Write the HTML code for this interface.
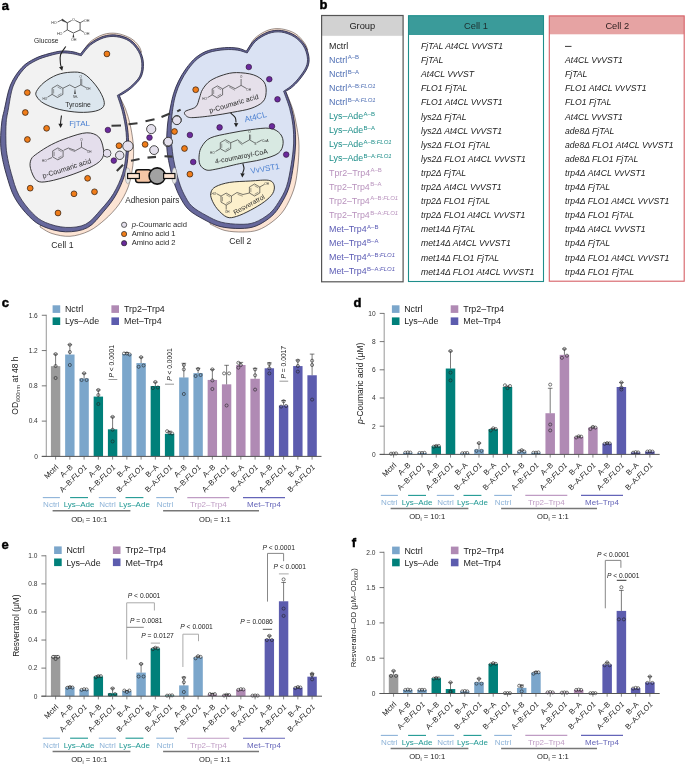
<!DOCTYPE html><html><head><meta charset="utf-8"><style>html,body{margin:0;padding:0;background:#fff;}svg{display:block;will-change:transform;font-family:"Liberation Sans", sans-serif;}</style></head><body>
<svg width="685" height="766" viewBox="0 0 685 766">
<rect width="685" height="766" fill="#fff"/>
<path d="M82.5 52.3 C83.72 50.62 86.38 45.15 89.8 42.2 C93.22 39.25 98.53 36.07 103 34.6 C107.47 33.13 112.02 32.8 116.6 33.4 C121.18 34 126.85 36.18 130.5 38.2 C134.15 40.22 136.67 43.2 138.5 45.5 C140.33 47.8 141 50.92 141.5 52 L125 70 Z" fill="#fce4d4" stroke="#4a3a35" stroke-width="0.55"/>
<path d="M119.3 96 C120.33 98.17 123.72 104.33 125.5 109 C127.28 113.67 128.78 118.83 130 124 C131.22 129.17 132.2 135.17 132.8 140 C133.4 144.83 133.7 148 133.6 153 C133.5 158 133.17 164.17 132.2 170 C131.23 175.83 130.08 182.17 127.8 188 C125.52 193.83 122.3 199.75 118.5 205 C114.7 210.25 109.92 215.17 105 219.5 C100.08 223.83 94.83 228.2 89 231 C83.17 233.8 76.17 235.88 70 236.3 C63.83 236.72 57 235.05 52 233.5 C47 231.95 42 228.08 40 227 L60 150 L100 100 Z" fill="#fce4d4" stroke="#4a3a35" stroke-width="0.55"/>
<path d="M248 49.5 C249.1 47.67 251.27 41.72 254.6 38.5 C257.93 35.28 263.5 31.8 268 30.2 C272.5 28.6 277.02 28.32 281.6 28.9 C286.18 29.48 291.68 31.35 295.5 33.7 C299.32 36.05 302.45 40.28 304.5 43 C306.55 45.72 307.25 48.83 307.8 50 L290 65 Z" fill="#fce4d4" stroke="#4a3a35" stroke-width="0.55"/>
<path d="M286 92 C287.17 95 291.17 104 293 110 C294.83 116 296 122 297 128 C298 134 298.92 139 299 146 C299.08 153 298.4 162.67 297.5 170 C296.6 177.33 295.85 183.33 293.6 190 C291.35 196.67 287.6 204.67 284 210 C280.4 215.33 276.33 218.67 272 222 C267.67 225.33 262.83 228.33 258 230 C253.17 231.67 248.5 231.92 243 232 C237.5 232.08 230.5 231.83 225 230.5 C219.5 229.17 212.5 225.08 210 224 L230 150 Z" fill="#fce4d4" stroke="#4a3a35" stroke-width="0.55"/>
<path d="M119.3 95.2 C120.13 97.9 122.85 105.22 124.3 111.4 C125.75 117.58 127.35 125.33 128 132.3 C128.65 139.27 128.72 146.23 128.2 153.2 C127.68 160.17 126.95 167.13 124.9 174.1 C122.85 181.07 119.48 188.72 115.9 195 C112.32 201.28 108.12 206.37 103.4 211.8 C98.68 217.23 93.88 224.27 87.6 227.6 C81.32 230.93 73 231.95 65.7 231.8 C58.4 231.65 49.88 229.25 43.8 226.7 C37.72 224.15 34.07 221.37 29.2 216.5 C24.33 211.63 18.38 204.42 14.6 197.5 C10.82 190.58 8.63 182.08 6.5 175 C4.37 167.92 2.78 160.83 1.8 155 C0.82 149.17 0.6 145.5 0.6 140 C0.6 134.5 1.17 127.08 1.8 122 C2.43 116.92 2.95 115.67 4.4 109.5 C5.85 103.33 7.58 92 10.5 85 C13.42 78 17.82 71.92 21.9 67.5 C25.98 63.08 30.48 60.82 35 58.5 C39.52 56.18 44.5 54.85 49 53.6 C53.5 52.35 58 51.3 62 51 C66 50.7 69.93 51.3 73 51.8 C76.07 52.3 79.17 53.63 80.4 54 C81.92 52.3 85.73 46.73 89.5 43.8 C93.27 40.87 98.5 37.85 103 36.4 C107.5 34.95 111.97 34.53 116.5 35.1 C121.03 35.67 126.32 37.2 130.2 39.8 C134.08 42.4 137.6 46.82 139.8 50.7 C142 54.58 143.17 58.75 143.4 63.1 C143.63 67.45 143.15 72.7 141.2 76.8 C139.25 80.9 134.83 84.8 131.7 87.7 C128.57 90.6 124.47 92.95 122.4 94.2 C120.33 95.45 119.82 95.03 119.3 95.2Z" fill="#67689c" stroke="#2d2d45" stroke-width="0.9" stroke-linejoin="round"/>
<path d="M117.31 95.42 C118.17 98.16 120.98 105.66 122.45 111.83 C123.92 118.01 125.5 125.61 126.11 132.48 C126.72 139.34 126.69 146.22 126.1 153.04 C125.51 159.87 124.67 166.65 122.57 173.41 C120.47 180.18 117.1 187.59 113.48 193.62 C109.87 199.65 105.49 204.52 100.88 209.61 C96.27 214.71 91.64 221.23 85.79 224.2 C79.95 227.16 72.5 227.7 65.79 227.42 C59.08 227.13 51.11 224.87 45.56 222.5 C40.01 220.13 36.96 217.75 32.51 213.19 C28.06 208.64 22.39 201.78 18.86 195.17 C15.33 188.56 13.3 180.39 11.31 173.55 C9.32 166.71 7.81 159.73 6.91 154.14 C6.01 148.55 6.02 145.27 5.9 140 C5.78 134.73 5.81 127.48 6.18 122.55 C6.55 117.61 6.95 116.45 8.11 110.37 C9.28 104.3 10.57 92.98 13.17 86.11 C15.77 79.25 19.91 73.45 23.72 69.18 C27.52 64.91 31.71 62.75 36.02 60.5 C40.33 58.24 45.21 56.89 49.57 55.65 C53.92 54.4 58.3 53.33 62.15 53.02 C66 52.7 69.49 53.3 72.68 53.76 C75.87 54.23 79.84 55.46 81.27 55.8 C82.81 54.01 86.78 48.04 90.48 45.06 C94.19 42.08 99.19 39.32 103.49 37.92 C107.79 36.53 112 36.15 116.3 36.69 C120.6 37.22 125.63 38.66 129.31 41.13 C132.99 43.6 136.33 47.81 138.41 51.49 C140.49 55.16 141.58 59.08 141.8 63.19 C142.03 67.29 141.62 72.22 139.76 76.11 C137.89 80 133.64 83.74 130.61 86.53 C127.58 89.31 123.79 91.35 121.57 92.83 C119.36 94.31 118.02 94.99 117.31 95.42Z" fill="#f2f2f2" stroke="#2d2d45" stroke-width="0.8" stroke-linejoin="round"/>
<path d="M285.6 91.2 C286.58 94 289.97 102.37 291.5 108 C293.03 113.63 294.12 119 294.8 125 C295.48 131 295.82 137.33 295.6 144 C295.38 150.67 294.6 157.75 293.5 165 C292.4 172.25 291.08 181 289 187.5 C286.92 194 283.9 199.22 281 204 C278.1 208.78 275.77 212.53 271.6 216.2 C267.43 219.87 261.27 223.95 256 226 C250.73 228.05 246 228.42 240 228.5 C234 228.58 226 228 220 226.5 C214 225 209.22 222.3 204 219.5 C198.78 216.7 192.7 213.45 188.7 209.7 C184.7 205.95 182.38 201.35 180 197 C177.62 192.65 176.15 188.93 174.4 183.6 C172.65 178.27 170.77 171.1 169.5 165 C168.23 158.9 167.13 153.67 166.8 147 C166.47 140.33 166.88 131.67 167.5 125 C168.12 118.33 169.47 112.28 170.5 107 C171.53 101.72 172.35 97.63 173.7 93.3 C175.05 88.97 176.53 85.13 178.6 81 C180.67 76.87 183.2 72.43 186.1 68.5 C189 64.57 192.28 60.4 196 57.4 C199.72 54.4 203.63 52.12 208.4 50.5 C213.17 48.88 219.67 48.08 224.6 47.7 C229.53 47.32 234.38 47.62 238 48.2 C241.62 48.78 244.92 50.7 246.3 51.2 C247.68 49.33 250.98 43.2 254.6 40 C258.22 36.8 263.52 33.58 268 32 C272.48 30.42 277 29.93 281.5 30.5 C286 31.07 291.15 33.02 295 35.4 C298.85 37.78 302.28 41.23 304.6 44.8 C306.92 48.37 308.42 53 308.9 56.8 C309.38 60.6 309.08 63.77 307.5 67.6 C305.92 71.43 302.08 76.43 299.4 79.8 C296.72 83.17 293.7 85.9 291.4 87.8 C289.1 89.7 286.57 90.63 285.6 91.2Z" fill="#67689c" stroke="#2d2d45" stroke-width="0.9" stroke-linejoin="round"/>
<path d="M283.6 91.21 C284.61 94.09 288.11 102.83 289.67 108.5 C291.22 114.17 292.26 119.31 292.91 125.21 C293.57 131.12 293.89 137.36 293.61 143.94 C293.32 150.51 292.39 157.52 291.2 164.65 C290.02 171.78 288.63 180.4 286.5 186.7 C284.37 193 281.28 197.94 278.42 202.44 C275.56 206.93 273.33 210.33 269.36 213.66 C265.4 216.99 259.52 220.66 254.61 222.44 C249.71 224.21 245.53 224.34 239.94 224.29 C234.35 224.24 226.71 223.62 221.09 222.15 C215.46 220.67 211.04 218.09 206.18 215.44 C201.32 212.79 195.6 209.7 191.95 206.24 C188.29 202.78 186.4 198.7 184.26 194.66 C182.12 190.63 180.74 187.17 179.11 182.06 C177.48 176.94 175.67 169.85 174.47 163.97 C173.28 158.08 172.46 153.18 171.92 146.74 C171.37 140.31 171.03 131.89 171.2 125.34 C171.38 118.8 172.19 112.71 172.97 107.48 C173.75 102.26 174.61 98.23 175.88 93.98 C177.15 89.73 178.59 86.03 180.59 81.99 C182.58 77.96 185.05 73.61 187.84 69.78 C190.62 65.95 193.78 61.92 197.32 59.03 C200.85 56.14 204.49 54 209.06 52.45 C213.64 50.9 219.99 50.09 224.76 49.71 C229.53 49.33 233.94 49.62 237.68 50.17 C241.42 50.71 245.6 52.52 247.19 52.99 C248.6 51.03 252.1 44.45 255.66 41.2 C259.22 37.95 264.26 35.03 268.53 33.51 C272.81 31.99 277.03 31.55 281.3 32.09 C285.57 32.63 290.5 34.5 294.16 36.76 C297.82 39.02 301.07 42.3 303.26 45.67 C305.45 49.05 306.85 53.45 307.31 57 C307.77 60.55 307.55 63.36 306.02 66.99 C304.49 70.62 300.76 75.54 298.15 78.8 C295.54 82.07 292.81 84.5 290.38 86.57 C287.96 88.63 284.73 90.44 283.6 91.21Z" fill="#dae2f3" stroke="#2d2d45" stroke-width="0.8" stroke-linejoin="round"/>
<path d="M36.4 91.5 C37.57 89.08 40.58 85.27 44 82.5 C47.42 79.73 52.42 76.62 56.9 74.9 C61.38 73.18 66.43 72.38 70.9 72.2 C75.37 72.02 79.62 71.68 83.7 73.8 C87.78 75.92 92.18 80.92 95.4 84.9 C98.62 88.88 101.63 94.13 103 97.7 C104.37 101.27 104.87 104.07 103.6 106.3 C102.33 108.53 99.5 110.1 95.4 111.1 C91.3 112.1 85.03 112.58 79 112.3 C72.97 112.02 65.03 110.87 59.2 109.4 C53.37 107.93 47.7 105.57 44 103.5 C40.3 101.43 38.27 99 37 97 C35.73 95 35.23 93.92 36.4 91.5Z" fill="#dce6ee" stroke="#222" stroke-width="0.9"/>
<path d="M62.87 94.4 L57.5 97.5 L52.13 94.4 L52.13 88.2 L57.5 85.1 L62.87 88.2Z" fill="none" stroke="#333" stroke-width="0.65"/>
<line x1="61.37" y1="93.53" x2="57.5" y2="95.76" stroke="#333" stroke-width="0.45"/>
<line x1="53.63" y1="93.53" x2="53.63" y2="89.07" stroke="#333" stroke-width="0.45"/>
<line x1="57.5" y1="86.84" x2="61.37" y2="89.07" stroke="#333" stroke-width="0.45"/>
<path d="M52.1 94.4 L47.5 97.2" fill="none" stroke="#333" stroke-width="0.65"/>
<text x="42.5" y="99.6" font-size="3.2" fill="#333">HO</text>
<path d="M63 88.2 L69.7 84.9 L75 87.8 L80.8 84.9 L80.8 78.5" fill="none" stroke="#333" stroke-width="0.65"/>
<path d="M81.8 84.9 L81.8 78.8" fill="none" stroke="#333" stroke-width="0.45"/>
<path d="M80.8 84.9 L86.5 87.8" fill="none" stroke="#333" stroke-width="0.65"/>
<text x="79.6" y="77.5" font-size="3" fill="#333">O</text>
<text x="86" y="89.8" font-size="3" fill="#333">OH</text>
<path d="M75 88 L74.2 94 L75.8 94 Z" fill="#333"/>
<text x="73" y="97.8" font-size="2.8" fill="#333">NH₂</text>
<text x="65.2" y="107" font-size="6.8" fill="#2a2a2a">Tyrosine</text>
<circle cx="107.1" cy="153.3" r="3.8" fill="#e4e0ec" stroke="#222" stroke-width="0.9"/>
<path d="M37.5 153.3 C40.85 150.88 46.15 147.33 51.3 144.7 C56.45 142.07 62.48 139.48 68.4 137.5 C74.32 135.52 81.77 132.92 86.8 132.8 C91.83 132.68 95.87 134.27 98.6 136.8 C101.33 139.33 102.55 144.5 103.2 148 C103.85 151.5 104.15 154.85 102.5 157.8 C100.85 160.75 98.55 162.83 93.3 165.7 C88.05 168.57 78.43 172.4 71 175 C63.57 177.6 54.4 180.37 48.7 181.3 C43 182.23 39.83 182.75 36.8 180.6 C33.77 178.45 31.43 171.97 30.5 168.4 C29.57 164.83 30.03 161.72 31.2 159.2 C32.37 156.68 34.15 155.72 37.5 153.3Z" fill="#e4deec" stroke="#222" stroke-width="0.9"/>
<circle cx="107.1" cy="153.3" r="3.3" fill="#e4deec"/>
<path d="M63.1 156.9 L57.9 159.9 L52.7 156.9 L52.7 150.9 L57.9 147.9 L63.1 150.9Z" fill="none" stroke="#333" stroke-width="0.65"/>
<line x1="61.64" y1="156.06" x2="57.9" y2="158.22" stroke="#333" stroke-width="0.45"/>
<line x1="54.16" y1="156.06" x2="54.16" y2="151.74" stroke="#333" stroke-width="0.45"/>
<line x1="57.9" y1="149.58" x2="61.64" y2="151.74" stroke="#333" stroke-width="0.45"/>
<path d="M52.1 157.5 L47.5 159.5" fill="none" stroke="#333" stroke-width="0.65"/>
<text x="42" y="161.8" font-size="3" fill="#333">HO</text>
<path d="M63.6 150.3 L68.4 148 L75.6 150.6 L81.5 147.3 L81.5 141.5" fill="none" stroke="#333" stroke-width="0.65"/>
<path d="M69.2 149.3 L75.2 151.8" fill="none" stroke="#333" stroke-width="0.45"/>
<path d="M81.5 147.3 L87.5 150.5" fill="none" stroke="#333" stroke-width="0.65"/>
<text x="80.3" y="140.5" font-size="3" fill="#333">O</text>
<text x="87" y="152.6" font-size="3" fill="#333">OH</text>
<text transform="translate(43.2 178.2) rotate(-17.5)" font-size="7" fill="#2a2a2a">p-Coumaric acid</text>
<path d="M185 111.6 C186.53 110.03 193.38 109.1 195.8 106.8 C198.22 104.5 198.38 100.68 199.5 97.8 C200.62 94.92 200.72 92.33 202.5 89.5 C204.28 86.67 206.72 83.23 210.2 80.8 C213.68 78.37 219.02 76.27 223.4 74.9 C227.78 73.53 231.47 72.6 236.5 72.6 C241.53 72.6 249 73.32 253.6 74.9 C258.2 76.48 262.02 79.15 264.1 82.1 C266.18 85.05 266.32 89.32 266.1 92.6 C265.88 95.88 265.32 99.17 262.8 101.8 C260.28 104.43 256.03 106.65 251 108.4 C245.97 110.15 238.95 111.1 232.6 112.3 C226.25 113.5 219.48 114.72 212.9 115.6 C206.32 116.48 197.48 117.5 193.1 117.6 C188.72 117.7 187.95 117.2 186.6 116.2 C185.25 115.2 183.47 113.17 185 111.6Z" fill="#e6e0ea" stroke="#222" stroke-width="0.9"/>
<path d="M222.6 94.9 L217.4 97.9 L212.2 94.9 L212.2 88.9 L217.4 85.9 L222.6 88.9Z" fill="none" stroke="#333" stroke-width="0.65"/>
<line x1="221.14" y1="94.06" x2="217.4" y2="96.22" stroke="#333" stroke-width="0.45"/>
<line x1="213.66" y1="94.06" x2="213.66" y2="89.74" stroke="#333" stroke-width="0.45"/>
<line x1="217.4" y1="87.58" x2="221.14" y2="89.74" stroke="#333" stroke-width="0.45"/>
<path d="M212.2 94.9 L207.6 97.6" fill="none" stroke="#333" stroke-width="0.65"/>
<text x="202.3" y="100.4" font-size="3" fill="#333">HO</text>
<path d="M222.6 88.9 L228.6 85.4 L235.2 88.7 L241.1 85.4 L241.1 79" fill="none" stroke="#333" stroke-width="0.65"/>
<path d="M229.2 87 L235 90.3" fill="none" stroke="#333" stroke-width="0.45"/>
<path d="M241.1 85.4 L246.5 88.5" fill="none" stroke="#333" stroke-width="0.65"/>
<text x="239.9" y="78" font-size="3" fill="#333">O</text>
<text x="246.3" y="90.6" font-size="3" fill="#333">OH</text>
<text transform="translate(210 113) rotate(-16.5)" font-size="7" fill="#2a2a2a">p-Coumaric acid</text>
<path d="M199.2 154.7 C199.53 151.7 200.05 149.18 201.9 146.4 C203.75 143.62 205.67 140.2 210.3 138 C214.93 135.8 223 134.58 229.7 133.2 C236.4 131.82 243.8 130.52 250.5 129.7 C257.2 128.88 264.93 127.6 269.9 128.3 C274.87 129 278.1 131.35 280.3 133.9 C282.5 136.45 283.45 140.37 283.1 143.6 C282.75 146.83 281.78 150.65 278.2 153.3 C274.62 155.95 268.07 157.77 261.6 159.5 C255.13 161.23 247.03 162.08 239.4 163.7 C231.77 165.32 221.35 168.17 215.8 169.2 C210.25 170.23 208.75 170.7 206.1 169.9 C203.45 169.1 201.05 166.93 199.9 164.4 C198.75 161.87 198.87 157.7 199.2 154.7Z" fill="#d8e9e2" stroke="#222" stroke-width="0.9"/>
<path d="M230.7 148.7 L225.5 151.7 L220.3 148.7 L220.3 142.7 L225.5 139.7 L230.7 142.7Z" fill="none" stroke="#333" stroke-width="0.65"/>
<line x1="229.24" y1="147.86" x2="225.5" y2="150.02" stroke="#333" stroke-width="0.45"/>
<line x1="221.76" y1="147.86" x2="221.76" y2="143.54" stroke="#333" stroke-width="0.45"/>
<line x1="225.5" y1="141.38" x2="229.24" y2="143.54" stroke="#333" stroke-width="0.45"/>
<path d="M220.3 148.7 L215.5 151.5" fill="none" stroke="#333" stroke-width="0.65"/>
<text x="210" y="154.3" font-size="3" fill="#333">HO</text>
<path d="M230.7 142.7 L237.7 139.8 L242.6 143.7 L249.5 139.8 L249.5 134.5" fill="none" stroke="#333" stroke-width="0.65"/>
<path d="M238.2 141.6 L242.3 145" fill="none" stroke="#333" stroke-width="0.45"/>
<path d="M250.6 139.6 L250.6 134.7" fill="none" stroke="#333" stroke-width="0.45"/>
<path d="M249.5 139.8 L254.6 142.8" fill="none" stroke="#333" stroke-width="0.65"/>
<path d="M256.5 142.8 L261.8 140" fill="none" stroke="#333" stroke-width="0.65"/>
<text x="248.3" y="133.4" font-size="3.2" fill="#333">O</text>
<text x="254.2" y="145" font-size="3.2" fill="#333">S</text>
<text x="262" y="141.6" font-size="3.4" fill="#333">CoA</text>
<text transform="translate(215.5 163.8) rotate(-11.2)" font-size="6.9" fill="#2a2a2a">4-coumaroyl-CoA</text>
<path d="M211 192.1 C211.7 190.02 212.68 188.22 215.8 186.6 C218.92 184.98 223.92 183.33 229.7 182.4 C235.48 181.47 244.03 181.35 250.5 181 C256.97 180.65 264.57 179.6 268.5 180.3 C272.43 181 273.4 183 274.1 185.2 C274.8 187.4 274.33 190.73 272.7 193.5 C271.07 196.27 268 199.02 264.3 201.8 C260.6 204.58 255.12 207.77 250.5 210.2 C245.88 212.63 240.53 215.25 236.6 216.4 C232.67 217.55 230.13 218.37 226.9 217.1 C223.67 215.83 219.75 211.8 217.2 208.8 C214.65 205.8 212.63 201.88 211.6 199.1 C210.57 196.32 210.3 194.18 211 192.1Z" fill="#fcf0cc" stroke="#222" stroke-width="0.9"/>
<path d="M231.4 202.1 L226.2 205.1 L221 202.1 L221 196.1 L226.2 193.1 L231.4 196.1Z" fill="none" stroke="#333" stroke-width="0.65"/>
<line x1="229.94" y1="201.26" x2="226.2" y2="203.42" stroke="#333" stroke-width="0.45"/>
<line x1="222.46" y1="201.26" x2="222.46" y2="196.94" stroke="#333" stroke-width="0.45"/>
<line x1="226.2" y1="194.78" x2="229.94" y2="196.94" stroke="#333" stroke-width="0.45"/>
<path d="M259.8 193 L254.6 196 L249.4 193 L249.4 187 L254.6 184 L259.8 187Z" fill="none" stroke="#333" stroke-width="0.65"/>
<line x1="258.34" y1="192.16" x2="254.6" y2="194.32" stroke="#333" stroke-width="0.45"/>
<line x1="250.86" y1="192.16" x2="250.86" y2="187.84" stroke="#333" stroke-width="0.45"/>
<line x1="254.6" y1="185.68" x2="258.34" y2="187.84" stroke="#333" stroke-width="0.45"/>
<path d="M231.4 196.1 L237 192.5 L243 194.5 L249.4 193" fill="none" stroke="#333" stroke-width="0.65"/>
<path d="M237.6 194.3 L242.8 196.2" fill="none" stroke="#333" stroke-width="0.45"/>
<path d="M221 196.1 L216.5 193.6" fill="none" stroke="#333" stroke-width="0.65"/>
<text x="211.5" y="195.2" font-size="3" fill="#333">HO</text>
<path d="M226.2 205.1 L226.2 209.6" fill="none" stroke="#333" stroke-width="0.65"/>
<text x="225" y="213.2" font-size="3" fill="#333">OH</text>
<path d="M259.8 187 L264.5 184.3" fill="none" stroke="#333" stroke-width="0.65"/>
<text x="264.5" y="184.8" font-size="3" fill="#333">OH</text>
<text transform="translate(235 215) rotate(-29)" font-size="6.8" fill="#2a2a2a">Resveratrol</text>
<text x="69.2" y="125.6" font-size="8" fill="#4a7fd0">FjTAL</text>
<text transform="translate(245.2 122.3) rotate(-14)" font-size="8.2" fill="#4a7fd0">At4CL</text>
<text transform="translate(251 173.8) rotate(-10)" font-size="8" fill="#4a7fd0">VvVST1</text>
<path d="M65.8 46.5 C64.92 47.92 61.38 52.08 60.5 55 C59.62 57.92 60.32 61.92 60.5 64 C60.68 66.08 61.42 66.92 61.6 67.5" fill="none" stroke="#222" stroke-width="1.1"/>
<path d="M62.2 70.8 L58.99 67.31 L63.24 66.17 Z" fill="#222"/>
<path d="M61.5 115.5 C61.37 116.5 60.85 120.08 60.7 121.5 C60.55 122.92 60.62 123.58 60.6 124" fill="none" stroke="#222" stroke-width="1.1"/>
<path d="M60.6 128 L58.4 123.8 L62.8 123.8 Z" fill="#222"/>
<path d="M230.6 113 C231.37 113.75 234.3 115.92 235.2 117.5 C236.1 119.08 235.87 121.67 236 122.5" fill="none" stroke="#222" stroke-width="1.1"/>
<path d="M236 127.3 L233.95 123.03 L238.35 123.18 Z" fill="#222"/>
<path d="M242.8 163.5 C243 164.33 244.05 166.83 244 168.5 C243.95 170.17 242.75 172.67 242.5 173.5" fill="none" stroke="#222" stroke-width="1.1"/>
<path d="M242.3 177.5 L240.32 173.19 L244.72 173.42 Z" fill="#222"/>
<path d="M71.6 20.5 L67.3 22.8 L67.3 29.9 L73.4 33 L80.1 29.9 L80.1 22.8 L75.3 20.5" fill="none" stroke="#333" stroke-width="0.8"/>
<path d="M67.3 22.8 L62.2 19.0 L61.9 20.6 Z" fill="#333" stroke="#333" stroke-width="0.6"/>
<path d="M62.2 19.7 L57.6 22" fill="none" stroke="#333" stroke-width="0.7"/>
<text x="51.2" y="24.4" font-size="3.7" fill="#333">HO</text>
<path d="M80.1 22.8 L84 20.6" fill="none" stroke="#333" stroke-width="0.7"/>
<text x="84" y="21.8" font-size="3.7" fill="#333">OH</text>
<path d="M80.1 29.9 L84 32.3" fill="none" stroke="#333" stroke-width="0.7"/>
<text x="84" y="35" font-size="3.7" fill="#333">OH</text>
<path d="M73.4 33 L72.5 37.4 L74.3 37.4 Z" fill="#333"/>
<text x="71" y="41.4" font-size="3.7" fill="#333">OH</text>
<path d="M67.3 29.9 L63.4 32.3" fill="none" stroke="#333" stroke-width="0.7"/>
<text x="56.9" y="35" font-size="3.7" fill="#333">HO</text>
<text x="72.1" y="21.2" font-size="3.7" fill="#333">O</text>
<text x="34" y="42.9" font-size="6.7" fill="#2a2a2a">Glucose</text>
<circle cx="106.9" cy="53.9" r="2.9" fill="#f07d1a" stroke="#2a1a10" stroke-width="0.7"/>
<circle cx="27.3" cy="92.6" r="2.9" fill="#f07d1a" stroke="#2a1a10" stroke-width="0.7"/>
<circle cx="25.3" cy="112.5" r="2.9" fill="#f07d1a" stroke="#2a1a10" stroke-width="0.7"/>
<circle cx="46.6" cy="128.3" r="2.9" fill="#f07d1a" stroke="#2a1a10" stroke-width="0.7"/>
<circle cx="27.4" cy="139.5" r="2.9" fill="#f07d1a" stroke="#2a1a10" stroke-width="0.7"/>
<circle cx="87.6" cy="178.3" r="2.9" fill="#f07d1a" stroke="#2a1a10" stroke-width="0.7"/>
<circle cx="30.2" cy="188.2" r="2.9" fill="#f07d1a" stroke="#2a1a10" stroke-width="0.7"/>
<circle cx="74" cy="193.8" r="2.9" fill="#f07d1a" stroke="#2a1a10" stroke-width="0.7"/>
<circle cx="94.5" cy="191.8" r="2.9" fill="#f07d1a" stroke="#2a1a10" stroke-width="0.7"/>
<circle cx="58" cy="213" r="2.9" fill="#f07d1a" stroke="#2a1a10" stroke-width="0.7"/>
<circle cx="195.7" cy="89.7" r="2.9" fill="#f07d1a" stroke="#2a1a10" stroke-width="0.7"/>
<circle cx="174.5" cy="131.5" r="2.9" fill="#f07d1a" stroke="#2a1a10" stroke-width="0.7"/>
<circle cx="184.5" cy="148.5" r="2.9" fill="#f07d1a" stroke="#2a1a10" stroke-width="0.7"/>
<circle cx="189.9" cy="174.2" r="2.9" fill="#f07d1a" stroke="#2a1a10" stroke-width="0.7"/>
<circle cx="248.8" cy="67" r="2.8" fill="#6a2a9c" stroke="#2a1030" stroke-width="0.6"/>
<circle cx="269.3" cy="79.2" r="2.8" fill="#6a2a9c" stroke="#2a1030" stroke-width="0.6"/>
<circle cx="277.5" cy="99.3" r="2.8" fill="#6a2a9c" stroke="#2a1030" stroke-width="0.6"/>
<circle cx="219.6" cy="127.4" r="2.8" fill="#6a2a9c" stroke="#2a1030" stroke-width="0.6"/>
<circle cx="272" cy="126.3" r="2.8" fill="#6a2a9c" stroke="#2a1030" stroke-width="0.6"/>
<circle cx="189.9" cy="135" r="2.8" fill="#6a2a9c" stroke="#2a1030" stroke-width="0.6"/>
<circle cx="286.2" cy="154.6" r="2.8" fill="#6a2a9c" stroke="#2a1030" stroke-width="0.6"/>
<circle cx="193.2" cy="162" r="2.8" fill="#6a2a9c" stroke="#2a1030" stroke-width="0.6"/>
<path d="M111.5 125.8 L121 125.5 M128.5 124.3 L137.5 123.2 M145.5 121.3 L154.5 119.3 M161.5 117 L170 113.5" stroke="#3a3a3a" stroke-width="2.1" fill="none"/>
<path d="M116.8 171 L123 164.8 M131 160.8 L139.5 159 M147.5 157.6 L156 156.9 M164.5 156.3 L172.5 156.6" stroke="#3a3a3a" stroke-width="2.1" fill="none"/>
<path d="M177.2 111.4 L180.6 109.6" stroke="#3a3a3a" stroke-width="2.1" fill="none"/>
<circle cx="127.9" cy="146.1" r="5.2" fill="#e4e0ec" stroke="#222" stroke-width="0.8"/>
<circle cx="119.7" cy="155.3" r="4.2" fill="#e4e0ec" stroke="#222" stroke-width="0.8"/>
<circle cx="151.2" cy="129.1" r="4.6" fill="#e4e0ec" stroke="#222" stroke-width="0.8"/>
<circle cx="154.1" cy="150.1" r="4.4" fill="#e4e0ec" stroke="#222" stroke-width="0.8"/>
<circle cx="167.7" cy="142.2" r="4.4" fill="#e4e0ec" stroke="#222" stroke-width="0.8"/>
<circle cx="176.9" cy="119.9" r="4.4" fill="#e4e0ec" stroke="#222" stroke-width="0.8"/>
<circle cx="168.2" cy="141.6" r="4.3" fill="#e4e0ec" stroke="#222" stroke-width="0.8"/>
<circle cx="176.8" cy="120.3" r="4.3" fill="#e4e0ec" stroke="#222" stroke-width="0.8"/>
<circle cx="107.9" cy="130" r="2.8" fill="#6a2a9c" stroke="#2a1030" stroke-width="0.6"/>
<circle cx="149.5" cy="137.6" r="2.8" fill="#6a2a9c" stroke="#2a1030" stroke-width="0.6"/>
<circle cx="113.8" cy="160.6" r="2.8" fill="#6a2a9c" stroke="#2a1030" stroke-width="0.6"/>
<circle cx="119" cy="145.7" r="2.9" fill="#f07d1a" stroke="#2a1a10" stroke-width="0.7"/>
<circle cx="145.1" cy="144.4" r="2.9" fill="#f07d1a" stroke="#2a1a10" stroke-width="0.7"/>
<ellipse cx="127.8" cy="175.8" rx="2.6" ry="8" fill="#e6e6e6" stroke="#888" stroke-width="0.5"/>
<ellipse cx="174.4" cy="175.8" rx="2.6" ry="8" fill="#e6e6e6" stroke="#888" stroke-width="0.5"/>
<rect x="135.6" y="169.8" width="15.5" height="12.6" rx="2.6" fill="#f5c6a6" stroke="#111" stroke-width="1.5"/>
<rect x="127.6" y="173.5" width="11.8" height="5" fill="#fde3d0" stroke="#111" stroke-width="1.2"/>
<circle cx="157.2" cy="176" r="8.1" fill="#a2a2a2" stroke="#111" stroke-width="1.6"/>
<rect x="163.6" y="173.5" width="11.3" height="5" fill="#fde3d0" stroke="#111" stroke-width="1.2"/>
<text x="125.2" y="202.9" font-size="8.2" fill="#2a2a2a">Adhesion pairs</text>
<circle cx="124.1" cy="224.8" r="2.6" fill="#e4e0ec" stroke="#222" stroke-width="0.7"/>
<circle cx="124.1" cy="234.0" r="2.6" fill="#f07d1a" stroke="#222" stroke-width="0.7"/>
<circle cx="124.1" cy="243.2" r="2.6" fill="#6a2a9c" stroke="#222" stroke-width="0.7"/>
<text x="131.7" y="226.6" font-size="7.6" fill="#2a2a2a"><tspan font-style="italic">p</tspan>-Coumaric acid</text>
<text x="131.7" y="236.3" font-size="7.6" fill="#2a2a2a">Amino acid 1</text>
<text x="131.7" y="245.3" font-size="7.6" fill="#2a2a2a">Amino acid 2</text>
<text x="51.3" y="247.9" font-size="8.7" fill="#2a2a2a">Cell 1</text>
<text x="229.2" y="244.4" font-size="8.7" fill="#2a2a2a">Cell 2</text>
<text x="1.8" y="9.8" font-size="13" fill="#000" font-weight="bold" stroke="#000" stroke-width="0.45">a</text>
<text x="319.6" y="8.8" font-size="13" fill="#000" font-weight="bold" stroke="#000" stroke-width="0.45">b</text>
<rect x="321.6" y="15.5" width="81.5" height="20.3" fill="#d2d2d2"/>
<rect x="321.6" y="15.5" width="81.5" height="266.3" fill="none" stroke="#555" stroke-width="1.2"/>
<line x1="321.6" y1="35.8" x2="403.1" y2="35.8" stroke="#d2d2d2" stroke-width="0.1"/>
<text x="362.3" y="28.5" font-size="9.3" fill="#222" text-anchor="middle">Group</text>
<rect x="408.5" y="15.7" width="135" height="19.3" fill="#3a9b9a"/>
<rect x="408.5" y="15.7" width="135" height="265.8" fill="none" stroke="#1f8e8b" stroke-width="1.1"/>
<text x="476" y="28.6" font-size="9.3" fill="#1d2d2d" text-anchor="middle">Cell 1</text>
<rect x="549.3" y="15.9" width="134.9" height="18.4" fill="#e6a3a3"/>
<rect x="549.3" y="15.9" width="134.9" height="265.3" fill="none" stroke="#d65f66" stroke-width="1.1"/>
<text x="617.3" y="28.6" font-size="9.3" fill="#2a1e1e" text-anchor="middle">Cell 2</text>
<text x="329" y="48.6" font-size="8.9" fill="#222">Mctrl</text>
<text x="329" y="62.7" font-size="8.9" fill="#4f6fb4">Nctrl<tspan font-size="6.0" dy="-3.3" dx="0.4">A–B</tspan></text>
<text x="329" y="76.8" font-size="8.9" fill="#4f6fb4">Nctrl<tspan font-size="6.0" dy="-3.3" dx="0.4">B–A</tspan></text>
<text x="329" y="90.9" font-size="8.9" fill="#4f6fb4">Nctrl<tspan font-size="6.0" dy="-3.3" dx="0.4">A–B:<tspan font-style="italic">FLO1</tspan></tspan></text>
<text x="329" y="105" font-size="8.9" fill="#4f6fb4">Nctrl<tspan font-size="6.0" dy="-3.3" dx="0.4">B–A:<tspan font-style="italic">FLO1</tspan></tspan></text>
<text x="329" y="119.1" font-size="8.9" fill="#1f8f8a">Lys–Ade<tspan font-size="6.0" dy="-3.3" dx="0.4">A–B</tspan></text>
<text x="329" y="133.2" font-size="8.9" fill="#1f8f8a">Lys–Ade<tspan font-size="6.0" dy="-3.3" dx="0.4">B–A</tspan></text>
<text x="329" y="147.3" font-size="8.9" fill="#1f8f8a">Lys–Ade<tspan font-size="6.0" dy="-3.3" dx="0.4">A–B:<tspan font-style="italic">FLO1</tspan></tspan></text>
<text x="329" y="161.4" font-size="8.9" fill="#1f8f8a">Lys–Ade<tspan font-size="6.0" dy="-3.3" dx="0.4">B–A:<tspan font-style="italic">FLO1</tspan></tspan></text>
<text x="329" y="175.5" font-size="8.9" fill="#b892bd">Tpr2–Trp4<tspan font-size="6.0" dy="-3.3" dx="0.4">A–B</tspan></text>
<text x="329" y="189.6" font-size="8.9" fill="#b892bd">Trp2–Trp4<tspan font-size="6.0" dy="-3.3" dx="0.4">B–A</tspan></text>
<text x="329" y="203.7" font-size="8.9" fill="#b892bd">Trp2–Trp4<tspan font-size="6.0" dy="-3.3" dx="0.4">A–B:<tspan font-style="italic">FLO1</tspan></tspan></text>
<text x="329" y="217.8" font-size="8.9" fill="#b892bd">Trp2–Trp4<tspan font-size="6.0" dy="-3.3" dx="0.4">B–A:<tspan font-style="italic">FLO1</tspan></tspan></text>
<text x="329" y="231.9" font-size="8.9" fill="#5a5ab4">Met–Trp4<tspan font-size="6.0" dy="-3.3" dx="0.4">A–B</tspan></text>
<text x="329" y="246" font-size="8.9" fill="#5a5ab4">Met–Trp4<tspan font-size="6.0" dy="-3.3" dx="0.4">B–A</tspan></text>
<text x="329" y="260.1" font-size="8.9" fill="#5a5ab4">Met–Trp4<tspan font-size="6.0" dy="-3.3" dx="0.4">A–B:<tspan font-style="italic">FLO1</tspan></tspan></text>
<text x="329" y="274.2" font-size="8.9" fill="#5a5ab4">Met–Trp4<tspan font-size="6.0" dy="-3.3" dx="0.4">B–A:<tspan font-style="italic">FLO1</tspan></tspan></text>
<text x="421" y="49" font-size="8.65" fill="#222" font-style="italic">FjTAL At4CL VvVST1</text>
<text x="421" y="63.1" font-size="8.65" fill="#222" font-style="italic">FjTAL</text>
<text x="421" y="77.2" font-size="8.65" fill="#222" font-style="italic">At4CL VvVST</text>
<text x="421" y="91.3" font-size="8.65" fill="#222" font-style="italic">FLO1 FjTAL</text>
<text x="421" y="105.4" font-size="8.65" fill="#222" font-style="italic">FLO1 At4CL VvVST1</text>
<text x="421" y="119.5" font-size="8.65" fill="#222" font-style="italic">lys2Δ FjTAL</text>
<text x="421" y="133.6" font-size="8.65" fill="#222" font-style="italic">lys2Δ At4CL VvVST1</text>
<text x="421" y="147.7" font-size="8.65" fill="#222" font-style="italic">lys2Δ FLO1 FjTAL</text>
<text x="421" y="161.8" font-size="8.65" fill="#222" font-style="italic">lys2Δ FLO1 At4CL VvVST1</text>
<text x="421" y="175.9" font-size="8.65" fill="#222" font-style="italic">trp2Δ FjTAL</text>
<text x="421" y="190" font-size="8.65" fill="#222" font-style="italic">trp2Δ At4CL VvVST1</text>
<text x="421" y="204.1" font-size="8.65" fill="#222" font-style="italic">trp2Δ FLO1 FjTAL</text>
<text x="421" y="218.2" font-size="8.65" fill="#222" font-style="italic">trp2Δ FLO1 At4CL VvVST1</text>
<text x="421" y="232.3" font-size="8.65" fill="#222" font-style="italic">met14Δ FjTAL</text>
<text x="421" y="246.4" font-size="8.65" fill="#222" font-style="italic">met14Δ At4CL VvVST1</text>
<text x="421" y="260.5" font-size="8.65" fill="#222" font-style="italic">met14Δ FLO1 FjTAL</text>
<text x="421" y="274.6" font-size="8.65" fill="#222" font-style="italic">met14Δ FLO1 At4CL VvVST1</text>
<line x1="565" y1="46.4" x2="571.5" y2="46.4" stroke="#222" stroke-width="0.9"/>
<text x="565" y="63.1" font-size="8.65" fill="#222" font-style="italic">At4CL VvVST1</text>
<text x="565" y="77.2" font-size="8.65" fill="#222" font-style="italic">FjTAL</text>
<text x="565" y="91.3" font-size="8.65" fill="#222" font-style="italic">FLO1 At4CL VvVST1</text>
<text x="565" y="105.4" font-size="8.65" fill="#222" font-style="italic">FLO1 FjTAL</text>
<text x="565" y="119.5" font-size="8.65" fill="#222" font-style="italic">At4CL VvVST1</text>
<text x="565" y="133.6" font-size="8.65" fill="#222" font-style="italic">ade8Δ FjTAL</text>
<text x="565" y="147.7" font-size="8.65" fill="#222" font-style="italic">ade8Δ FLO1 At4CL VvVST1</text>
<text x="565" y="161.8" font-size="8.65" fill="#222" font-style="italic">ade8Δ FLO1 FjTAL</text>
<text x="565" y="175.9" font-size="8.65" fill="#222" font-style="italic">trp4Δ At4CL VvVST1</text>
<text x="565" y="190" font-size="8.65" fill="#222" font-style="italic">trp4Δ FjTAL</text>
<text x="565" y="204.1" font-size="8.65" fill="#222" font-style="italic">trp4Δ FLO1 At4CL VvVST1</text>
<text x="565" y="218.2" font-size="8.65" fill="#222" font-style="italic">trp4Δ FLO1 FjTAL</text>
<text x="565" y="232.3" font-size="8.65" fill="#222" font-style="italic">trp4Δ At4CL VvVST1</text>
<text x="565" y="246.4" font-size="8.65" fill="#222" font-style="italic">trp4Δ FjTAL</text>
<text x="565" y="260.5" font-size="8.65" fill="#222" font-style="italic">trp4Δ FLO1 At4CL VvVST1</text>
<text x="565" y="274.6" font-size="8.65" fill="#222" font-style="italic">trp4Δ FLO1 FjTAL</text>
<line x1="46.3" y1="314.78" x2="46.3" y2="456.4" stroke="#a0a0a0" stroke-width="1.1"/>
<line x1="41.8" y1="456.4" x2="46.3" y2="456.4" stroke="#555" stroke-width="0.8"/>
<text x="37.8" y="458.7" font-size="6.6" fill="#333" text-anchor="end">0</text>
<line x1="41.8" y1="421.12" x2="46.3" y2="421.12" stroke="#555" stroke-width="0.8"/>
<text x="37.8" y="423.42" font-size="6.6" fill="#333" text-anchor="end">0.4</text>
<line x1="41.8" y1="385.84" x2="46.3" y2="385.84" stroke="#555" stroke-width="0.8"/>
<text x="37.8" y="388.14" font-size="6.6" fill="#333" text-anchor="end">0.8</text>
<line x1="41.8" y1="350.56" x2="46.3" y2="350.56" stroke="#555" stroke-width="0.8"/>
<text x="37.8" y="352.86" font-size="6.6" fill="#333" text-anchor="end">1.2</text>
<line x1="41.8" y1="315.28" x2="46.3" y2="315.28" stroke="#555" stroke-width="0.8"/>
<text x="37.8" y="317.58" font-size="6.6" fill="#333" text-anchor="end">1.6</text>
<rect x="50.9" y="366.17" width="9.4" height="90.23" fill="#9b9b9b"/>
<rect x="65.15" y="354.53" width="9.4" height="101.87" fill="#7ba6cb"/>
<rect x="79.4" y="378.43" width="9.4" height="77.97" fill="#7ba6cb"/>
<rect x="93.65" y="396.6" width="9.4" height="59.8" fill="#00807a"/>
<rect x="107.9" y="429.32" width="9.4" height="27.08" fill="#00807a"/>
<rect x="122.15" y="354.09" width="9.4" height="102.31" fill="#7ba6cb"/>
<rect x="136.4" y="363.08" width="9.4" height="93.32" fill="#7ba6cb"/>
<rect x="150.65" y="386.02" width="9.4" height="70.38" fill="#00807a"/>
<rect x="164.9" y="433.82" width="9.4" height="22.58" fill="#00807a"/>
<rect x="179.15" y="377.46" width="9.4" height="78.94" fill="#7ba6cb"/>
<rect x="193.4" y="373.14" width="9.4" height="83.26" fill="#7ba6cb"/>
<rect x="207.65" y="379.93" width="9.4" height="76.47" fill="#b08ab4"/>
<rect x="221.9" y="384.34" width="9.4" height="72.06" fill="#b08ab4"/>
<rect x="236.15" y="365.02" width="9.4" height="91.38" fill="#b08ab4"/>
<rect x="250.4" y="378.78" width="9.4" height="77.62" fill="#b08ab4"/>
<rect x="264.65" y="368.29" width="9.4" height="88.11" fill="#5c5cae"/>
<rect x="278.9" y="405.51" width="9.4" height="50.89" fill="#5c5cae"/>
<rect x="293.15" y="366.08" width="9.4" height="90.32" fill="#5c5cae"/>
<rect x="307.4" y="375.26" width="9.4" height="81.14" fill="#5c5cae"/>
<line x1="55.6" y1="366.17" x2="55.6" y2="354.1" stroke="#222" stroke-width="0.6"/>
<line x1="53.3" y1="354.1" x2="57.9" y2="354.1" stroke="#222" stroke-width="0.6"/>
<circle cx="55.6" cy="354.1" r="1.55" fill="none" stroke="#222" stroke-width="0.6"/>
<circle cx="55.6" cy="366" r="1.55" fill="none" stroke="#222" stroke-width="0.6"/>
<circle cx="55.6" cy="378" r="1.55" fill="none" stroke="#222" stroke-width="0.6"/>
<line x1="69.85" y1="354.53" x2="69.85" y2="344.7" stroke="#222" stroke-width="0.6"/>
<line x1="67.55" y1="344.7" x2="72.15" y2="344.7" stroke="#222" stroke-width="0.6"/>
<circle cx="69.85" cy="344.7" r="1.55" fill="none" stroke="#222" stroke-width="0.6"/>
<circle cx="69.85" cy="352" r="1.55" fill="none" stroke="#222" stroke-width="0.6"/>
<circle cx="69.85" cy="365" r="1.55" fill="none" stroke="#222" stroke-width="0.6"/>
<line x1="84.1" y1="378.43" x2="84.1" y2="373.3" stroke="#222" stroke-width="0.6"/>
<line x1="81.8" y1="373.3" x2="86.4" y2="373.3" stroke="#222" stroke-width="0.6"/>
<circle cx="84.1" cy="373.3" r="1.55" fill="none" stroke="#222" stroke-width="0.6"/>
<circle cx="81.6" cy="380" r="1.55" fill="none" stroke="#222" stroke-width="0.6"/>
<circle cx="86.6" cy="380" r="1.55" fill="none" stroke="#222" stroke-width="0.6"/>
<line x1="98.35" y1="396.6" x2="98.35" y2="389.9" stroke="#222" stroke-width="0.6"/>
<line x1="96.05" y1="389.9" x2="100.65" y2="389.9" stroke="#222" stroke-width="0.6"/>
<circle cx="98.35" cy="390" r="1.55" fill="none" stroke="#222" stroke-width="0.6"/>
<circle cx="98.35" cy="395" r="1.55" fill="none" stroke="#222" stroke-width="0.6"/>
<circle cx="98.35" cy="404" r="1.55" fill="none" stroke="#222" stroke-width="0.6"/>
<line x1="112.6" y1="429.32" x2="112.6" y2="416.9" stroke="#222" stroke-width="0.6"/>
<line x1="110.3" y1="416.9" x2="114.9" y2="416.9" stroke="#222" stroke-width="0.6"/>
<circle cx="112.6" cy="416.9" r="1.55" fill="none" stroke="#222" stroke-width="0.6"/>
<circle cx="112.6" cy="429.7" r="1.55" fill="none" stroke="#222" stroke-width="0.6"/>
<circle cx="112.6" cy="441.4" r="1.55" fill="none" stroke="#222" stroke-width="0.6"/>
<line x1="126.85" y1="354.09" x2="126.85" y2="352.5" stroke="#222" stroke-width="0.6"/>
<line x1="124.55" y1="352.5" x2="129.15" y2="352.5" stroke="#222" stroke-width="0.6"/>
<circle cx="124.05" cy="353.5" r="1.55" fill="none" stroke="#222" stroke-width="0.6"/>
<circle cx="126.85" cy="353.5" r="1.55" fill="none" stroke="#222" stroke-width="0.6"/>
<circle cx="129.65" cy="354.5" r="1.55" fill="none" stroke="#222" stroke-width="0.6"/>
<line x1="141.1" y1="363.08" x2="141.1" y2="357.2" stroke="#222" stroke-width="0.6"/>
<line x1="138.8" y1="357.2" x2="143.4" y2="357.2" stroke="#222" stroke-width="0.6"/>
<circle cx="141.1" cy="357.2" r="1.55" fill="none" stroke="#222" stroke-width="0.6"/>
<circle cx="138.6" cy="366.8" r="1.55" fill="none" stroke="#222" stroke-width="0.6"/>
<circle cx="143.6" cy="365.5" r="1.55" fill="none" stroke="#222" stroke-width="0.6"/>
<line x1="155.35" y1="386.02" x2="155.35" y2="382.1" stroke="#222" stroke-width="0.6"/>
<line x1="153.05" y1="382.1" x2="157.65" y2="382.1" stroke="#222" stroke-width="0.6"/>
<circle cx="155.35" cy="382" r="1.55" fill="none" stroke="#222" stroke-width="0.6"/>
<circle cx="152.85" cy="388" r="1.55" fill="none" stroke="#222" stroke-width="0.6"/>
<circle cx="157.85" cy="387.5" r="1.55" fill="none" stroke="#222" stroke-width="0.6"/>
<line x1="169.6" y1="433.82" x2="169.6" y2="431.2" stroke="#222" stroke-width="0.6"/>
<line x1="167.3" y1="431.2" x2="171.9" y2="431.2" stroke="#222" stroke-width="0.6"/>
<circle cx="167.1" cy="431.2" r="1.55" fill="none" stroke="#222" stroke-width="0.6"/>
<circle cx="169.6" cy="433" r="1.55" fill="none" stroke="#222" stroke-width="0.6"/>
<circle cx="172.1" cy="433.5" r="1.55" fill="none" stroke="#222" stroke-width="0.6"/>
<line x1="183.85" y1="377.46" x2="183.85" y2="363.3" stroke="#222" stroke-width="0.6"/>
<line x1="181.55" y1="363.3" x2="186.15" y2="363.3" stroke="#222" stroke-width="0.6"/>
<circle cx="183.85" cy="365" r="1.55" fill="none" stroke="#222" stroke-width="0.6"/>
<circle cx="183.85" cy="369.4" r="1.55" fill="none" stroke="#222" stroke-width="0.6"/>
<circle cx="183.85" cy="394" r="1.55" fill="none" stroke="#222" stroke-width="0.6"/>
<line x1="198.1" y1="373.14" x2="198.1" y2="368.3" stroke="#222" stroke-width="0.6"/>
<line x1="195.8" y1="368.3" x2="200.4" y2="368.3" stroke="#222" stroke-width="0.6"/>
<circle cx="198.1" cy="369" r="1.55" fill="none" stroke="#222" stroke-width="0.6"/>
<circle cx="195.6" cy="376" r="1.55" fill="none" stroke="#222" stroke-width="0.6"/>
<circle cx="200.6" cy="375" r="1.55" fill="none" stroke="#222" stroke-width="0.6"/>
<line x1="212.35" y1="379.93" x2="212.35" y2="369.4" stroke="#222" stroke-width="0.6"/>
<line x1="210.05" y1="369.4" x2="214.65" y2="369.4" stroke="#222" stroke-width="0.6"/>
<circle cx="212.35" cy="369.4" r="1.55" fill="none" stroke="#222" stroke-width="0.6"/>
<circle cx="212.35" cy="380.4" r="1.55" fill="none" stroke="#222" stroke-width="0.6"/>
<circle cx="212.35" cy="389" r="1.55" fill="none" stroke="#222" stroke-width="0.6"/>
<line x1="226.6" y1="384.34" x2="226.6" y2="365.3" stroke="#222" stroke-width="0.6"/>
<line x1="224.3" y1="365.3" x2="228.9" y2="365.3" stroke="#222" stroke-width="0.6"/>
<circle cx="224.1" cy="373.4" r="1.55" fill="none" stroke="#222" stroke-width="0.6"/>
<circle cx="229.1" cy="373.4" r="1.55" fill="none" stroke="#222" stroke-width="0.6"/>
<circle cx="226.6" cy="405.5" r="1.55" fill="none" stroke="#222" stroke-width="0.6"/>
<line x1="240.85" y1="365.02" x2="240.85" y2="362.4" stroke="#222" stroke-width="0.6"/>
<line x1="238.55" y1="362.4" x2="243.15" y2="362.4" stroke="#222" stroke-width="0.6"/>
<circle cx="238.35" cy="362.8" r="1.55" fill="none" stroke="#222" stroke-width="0.6"/>
<circle cx="240.85" cy="365" r="1.55" fill="none" stroke="#222" stroke-width="0.6"/>
<circle cx="238.35" cy="367.7" r="1.55" fill="none" stroke="#222" stroke-width="0.6"/>
<line x1="255.1" y1="378.78" x2="255.1" y2="368.3" stroke="#222" stroke-width="0.6"/>
<line x1="252.8" y1="368.3" x2="257.4" y2="368.3" stroke="#222" stroke-width="0.6"/>
<circle cx="255.1" cy="369.4" r="1.55" fill="none" stroke="#222" stroke-width="0.6"/>
<circle cx="255.1" cy="375.3" r="1.55" fill="none" stroke="#222" stroke-width="0.6"/>
<circle cx="255.1" cy="389.6" r="1.55" fill="none" stroke="#222" stroke-width="0.6"/>
<line x1="269.35" y1="368.29" x2="269.35" y2="362.8" stroke="#222" stroke-width="0.6"/>
<line x1="267.05" y1="362.8" x2="271.65" y2="362.8" stroke="#222" stroke-width="0.6"/>
<circle cx="269.35" cy="364" r="1.55" fill="none" stroke="#222" stroke-width="0.6"/>
<circle cx="269.35" cy="368.3" r="1.55" fill="none" stroke="#222" stroke-width="0.6"/>
<circle cx="269.35" cy="373.4" r="1.55" fill="none" stroke="#222" stroke-width="0.6"/>
<line x1="283.6" y1="405.51" x2="283.6" y2="400.5" stroke="#222" stroke-width="0.6"/>
<line x1="281.3" y1="400.5" x2="285.9" y2="400.5" stroke="#222" stroke-width="0.6"/>
<circle cx="283.6" cy="401.2" r="1.55" fill="none" stroke="#222" stroke-width="0.6"/>
<circle cx="281.1" cy="406.6" r="1.55" fill="none" stroke="#222" stroke-width="0.6"/>
<circle cx="286.1" cy="406" r="1.55" fill="none" stroke="#222" stroke-width="0.6"/>
<line x1="297.85" y1="366.08" x2="297.85" y2="360" stroke="#222" stroke-width="0.6"/>
<line x1="295.55" y1="360" x2="300.15" y2="360" stroke="#222" stroke-width="0.6"/>
<circle cx="297.85" cy="360.7" r="1.55" fill="none" stroke="#222" stroke-width="0.6"/>
<circle cx="297.85" cy="371.6" r="1.55" fill="none" stroke="#222" stroke-width="0.6"/>
<circle cx="297.85" cy="366" r="1.55" fill="none" stroke="#222" stroke-width="0.6"/>
<line x1="312.1" y1="375.26" x2="312.1" y2="354.1" stroke="#222" stroke-width="0.6"/>
<line x1="309.8" y1="354.1" x2="314.4" y2="354.1" stroke="#222" stroke-width="0.6"/>
<circle cx="312.1" cy="360.7" r="1.55" fill="none" stroke="#222" stroke-width="0.6"/>
<circle cx="312.1" cy="365" r="1.55" fill="none" stroke="#222" stroke-width="0.6"/>
<circle cx="312.1" cy="399.6" r="1.55" fill="none" stroke="#222" stroke-width="0.6"/>
<line x1="41.8" y1="456.4" x2="321.5" y2="456.4" stroke="#555" stroke-width="1"/>
<line x1="55.6" y1="456.4" x2="55.6" y2="459.6" stroke="#555" stroke-width="0.7"/>
<text transform="translate(59 467.7) rotate(-45)" font-size="7.6" fill="#222" text-anchor="end">Mctrl</text>
<line x1="69.85" y1="456.4" x2="69.85" y2="459.6" stroke="#555" stroke-width="0.7"/>
<text transform="translate(73.25 467.7) rotate(-45)" font-size="7.6" fill="#222" text-anchor="end">A–B</text>
<line x1="84.1" y1="456.4" x2="84.1" y2="459.6" stroke="#555" stroke-width="0.7"/>
<text transform="translate(87.5 467.7) rotate(-45)" font-size="7.6" fill="#222" text-anchor="end">A–B:<tspan font-style="italic">FLO1</tspan></text>
<line x1="98.35" y1="456.4" x2="98.35" y2="459.6" stroke="#555" stroke-width="0.7"/>
<text transform="translate(101.75 467.7) rotate(-45)" font-size="7.6" fill="#222" text-anchor="end">A–B</text>
<line x1="112.6" y1="456.4" x2="112.6" y2="459.6" stroke="#555" stroke-width="0.7"/>
<text transform="translate(116 467.7) rotate(-45)" font-size="7.6" fill="#222" text-anchor="end">A–B:<tspan font-style="italic">FLO1</tspan></text>
<line x1="126.85" y1="456.4" x2="126.85" y2="459.6" stroke="#555" stroke-width="0.7"/>
<text transform="translate(130.25 467.7) rotate(-45)" font-size="7.6" fill="#222" text-anchor="end">B–A</text>
<line x1="141.1" y1="456.4" x2="141.1" y2="459.6" stroke="#555" stroke-width="0.7"/>
<text transform="translate(144.5 467.7) rotate(-45)" font-size="7.6" fill="#222" text-anchor="end">B–A:<tspan font-style="italic">FLO1</tspan></text>
<line x1="155.35" y1="456.4" x2="155.35" y2="459.6" stroke="#555" stroke-width="0.7"/>
<text transform="translate(158.75 467.7) rotate(-45)" font-size="7.6" fill="#222" text-anchor="end">B–A</text>
<line x1="169.6" y1="456.4" x2="169.6" y2="459.6" stroke="#555" stroke-width="0.7"/>
<text transform="translate(173 467.7) rotate(-45)" font-size="7.6" fill="#222" text-anchor="end">B–A:<tspan font-style="italic">FLO1</tspan></text>
<line x1="183.85" y1="456.4" x2="183.85" y2="459.6" stroke="#555" stroke-width="0.7"/>
<text transform="translate(187.25 467.7) rotate(-45)" font-size="7.6" fill="#222" text-anchor="end">A–B</text>
<line x1="198.1" y1="456.4" x2="198.1" y2="459.6" stroke="#555" stroke-width="0.7"/>
<text transform="translate(201.5 467.7) rotate(-45)" font-size="7.6" fill="#222" text-anchor="end">A–B:<tspan font-style="italic">FLO1</tspan></text>
<line x1="212.35" y1="456.4" x2="212.35" y2="459.6" stroke="#555" stroke-width="0.7"/>
<text transform="translate(215.75 467.7) rotate(-45)" font-size="7.6" fill="#222" text-anchor="end">A–B</text>
<line x1="226.6" y1="456.4" x2="226.6" y2="459.6" stroke="#555" stroke-width="0.7"/>
<text transform="translate(230 467.7) rotate(-45)" font-size="7.6" fill="#222" text-anchor="end">A–B:<tspan font-style="italic">FLO1</tspan></text>
<line x1="240.85" y1="456.4" x2="240.85" y2="459.6" stroke="#555" stroke-width="0.7"/>
<text transform="translate(244.25 467.7) rotate(-45)" font-size="7.6" fill="#222" text-anchor="end">B–A</text>
<line x1="255.1" y1="456.4" x2="255.1" y2="459.6" stroke="#555" stroke-width="0.7"/>
<text transform="translate(258.5 467.7) rotate(-45)" font-size="7.6" fill="#222" text-anchor="end">B–A:<tspan font-style="italic">FLO1</tspan></text>
<line x1="269.35" y1="456.4" x2="269.35" y2="459.6" stroke="#555" stroke-width="0.7"/>
<text transform="translate(272.75 467.7) rotate(-45)" font-size="7.6" fill="#222" text-anchor="end">A–B</text>
<line x1="283.6" y1="456.4" x2="283.6" y2="459.6" stroke="#555" stroke-width="0.7"/>
<text transform="translate(287 467.7) rotate(-45)" font-size="7.6" fill="#222" text-anchor="end">A–B:<tspan font-style="italic">FLO1</tspan></text>
<line x1="297.85" y1="456.4" x2="297.85" y2="459.6" stroke="#555" stroke-width="0.7"/>
<text transform="translate(301.25 467.7) rotate(-45)" font-size="7.6" fill="#222" text-anchor="end">B–A</text>
<line x1="312.1" y1="456.4" x2="312.1" y2="459.6" stroke="#555" stroke-width="0.7"/>
<text transform="translate(315.5 467.7) rotate(-45)" font-size="7.6" fill="#222" text-anchor="end">B–A:<tspan font-style="italic">FLO1</tspan></text>
<line x1="42.8" y1="497.6" x2="59.9" y2="497.6" stroke="#8db3d8" stroke-width="1.1"/>
<text x="51.35" y="507" font-size="8" fill="#8db3d8" text-anchor="middle">Nctrl</text>
<line x1="70.1" y1="497.6" x2="88" y2="497.6" stroke="#1f9893" stroke-width="1.1"/>
<text x="79.05" y="507" font-size="8" fill="#1f9893" text-anchor="middle">Lys–Ade</text>
<line x1="98.8" y1="497.6" x2="116.1" y2="497.6" stroke="#8db3d8" stroke-width="1.1"/>
<text x="107.45" y="507" font-size="8" fill="#8db3d8" text-anchor="middle">Nctrl</text>
<line x1="125.5" y1="497.6" x2="143.4" y2="497.6" stroke="#1f9893" stroke-width="1.1"/>
<text x="134.45" y="507" font-size="8" fill="#1f9893" text-anchor="middle">Lys–Ade</text>
<line x1="156.2" y1="497.6" x2="173.9" y2="497.6" stroke="#8db3d8" stroke-width="1.1"/>
<text x="165.05" y="507" font-size="8" fill="#8db3d8" text-anchor="middle">Nctrl</text>
<line x1="187.3" y1="497.6" x2="229.3" y2="497.6" stroke="#bf9cc4" stroke-width="1.1"/>
<text x="208.3" y="507" font-size="8" fill="#bf9cc4" text-anchor="middle">Trp2–Trp4</text>
<line x1="243" y1="497.6" x2="285" y2="497.6" stroke="#6464b8" stroke-width="1.1"/>
<text x="264" y="507" font-size="8" fill="#6464b8" text-anchor="middle">Met–Trp4</text>
<line x1="52.6" y1="510.8" x2="130.4" y2="510.8" stroke="#777" stroke-width="1.5"/>
<text x="71.2" y="521.6" font-size="7.6" fill="#222">OD<tspan font-size="5" dy="1.8">i</tspan><tspan dy="-1.8"> = 10:1</tspan></text>
<line x1="163.1" y1="510.8" x2="259" y2="510.8" stroke="#777" stroke-width="1.5"/>
<text x="199.1" y="521.6" font-size="7.6" fill="#222">OD<tspan font-size="5" dy="1.8">i</tspan><tspan dy="-1.8"> = 1:1</tspan></text>
<rect x="52.6" y="305.3" width="7.6" height="7.6" fill="#7ba6cb"/>
<text x="64.9" y="312.3" font-size="8.9" fill="#222">Nctrl</text>
<rect x="52.6" y="317.4" width="7.6" height="7.6" fill="#00807a"/>
<text x="64.9" y="324.4" font-size="8.9" fill="#222">Lys–Ade</text>
<rect x="111.4" y="305.3" width="7.6" height="7.6" fill="#b08ab4"/>
<text x="124" y="312.3" font-size="8.9" fill="#222">Trp2–Trp4</text>
<rect x="111.4" y="317.4" width="7.6" height="7.6" fill="#5c5cae"/>
<text x="124" y="324.4" font-size="8.9" fill="#222">Met–Trp4</text>
<text x="1.8" y="306.8" font-size="13" fill="#000" font-weight="bold" stroke="#000" stroke-width="0.45">c</text>
<text transform="translate(18.2 385.6) rotate(-90)" font-size="8.5" fill="#222" text-anchor="middle">OD<tspan font-size="5.6" dy="1.8">600nm</tspan><tspan dy="-1.8"> at 48 h</tspan></text>
<text transform="translate(114.3 377.5) rotate(-90)" font-size="6.7" fill="#222"><tspan font-style="italic">P</tspan> &lt; 0.0001</text>
<line x1="108.5" y1="379.5" x2="117.3" y2="379.5" stroke="#999" stroke-width="1"/>
<text transform="translate(171.6 380.8) rotate(-90)" font-size="6.7" fill="#222"><tspan font-style="italic">P</tspan> &lt; 0.0001</text>
<line x1="165" y1="384.2" x2="174" y2="384.2" stroke="#999" stroke-width="1"/>
<text transform="translate(285.5 378.5) rotate(-90)" font-size="6.7" fill="#222"><tspan font-style="italic">P</tspan> = 0.0017</text>
<line x1="279.5" y1="381.2" x2="288.2" y2="381.2" stroke="#999" stroke-width="1"/>
<line x1="384.2" y1="312.9" x2="384.2" y2="454.4" stroke="#a0a0a0" stroke-width="1.1"/>
<line x1="379.7" y1="454.4" x2="384.2" y2="454.4" stroke="#555" stroke-width="0.8"/>
<text x="375.7" y="456.7" font-size="6.6" fill="#333" text-anchor="end">0</text>
<line x1="379.7" y1="426.2" x2="384.2" y2="426.2" stroke="#555" stroke-width="0.8"/>
<text x="375.7" y="428.5" font-size="6.6" fill="#333" text-anchor="end">2</text>
<line x1="379.7" y1="398" x2="384.2" y2="398" stroke="#555" stroke-width="0.8"/>
<text x="375.7" y="400.3" font-size="6.6" fill="#333" text-anchor="end">4</text>
<line x1="379.7" y1="369.8" x2="384.2" y2="369.8" stroke="#555" stroke-width="0.8"/>
<text x="375.7" y="372.1" font-size="6.6" fill="#333" text-anchor="end">6</text>
<line x1="379.7" y1="341.6" x2="384.2" y2="341.6" stroke="#555" stroke-width="0.8"/>
<text x="375.7" y="343.9" font-size="6.6" fill="#333" text-anchor="end">8</text>
<line x1="379.7" y1="313.4" x2="384.2" y2="313.4" stroke="#555" stroke-width="0.8"/>
<text x="375.7" y="315.7" font-size="6.6" fill="#333" text-anchor="end">10</text>
<rect x="388.8" y="453.69" width="9.5" height="0.71" fill="#9b9b9b"/>
<rect x="403.04" y="452.71" width="9.5" height="1.69" fill="#7ba6cb"/>
<rect x="417.28" y="452.99" width="9.5" height="1.41" fill="#7ba6cb"/>
<rect x="431.52" y="446.36" width="9.5" height="8.04" fill="#00807a"/>
<rect x="445.76" y="368.53" width="9.5" height="85.87" fill="#00807a"/>
<rect x="460" y="453.27" width="9.5" height="1.13" fill="#7ba6cb"/>
<rect x="474.24" y="449.46" width="9.5" height="4.93" fill="#7ba6cb"/>
<rect x="488.48" y="429.16" width="9.5" height="25.24" fill="#00807a"/>
<rect x="502.72" y="387" width="9.5" height="67.4" fill="#00807a"/>
<rect x="516.96" y="451.58" width="9.5" height="2.82" fill="#7ba6cb"/>
<rect x="531.2" y="452.71" width="9.5" height="1.69" fill="#7ba6cb"/>
<rect x="545.44" y="413.23" width="9.5" height="41.17" fill="#b08ab4"/>
<rect x="559.68" y="354.85" width="9.5" height="99.55" fill="#b08ab4"/>
<rect x="573.92" y="436.92" width="9.5" height="17.48" fill="#b08ab4"/>
<rect x="588.16" y="427.61" width="9.5" height="26.79" fill="#b08ab4"/>
<rect x="602.4" y="443.54" width="9.5" height="10.86" fill="#5c5cae"/>
<rect x="616.64" y="387" width="9.5" height="67.4" fill="#5c5cae"/>
<rect x="630.88" y="452.43" width="9.5" height="1.97" fill="#5c5cae"/>
<rect x="645.12" y="451.58" width="9.5" height="2.82" fill="#5c5cae"/>
<circle cx="391.05" cy="453.69" r="1.55" fill="none" stroke="#222" stroke-width="0.6"/>
<circle cx="393.55" cy="453.55" r="1.55" fill="none" stroke="#222" stroke-width="0.6"/>
<circle cx="396.05" cy="453.41" r="1.55" fill="none" stroke="#222" stroke-width="0.6"/>
<circle cx="405.29" cy="452.71" r="1.55" fill="none" stroke="#222" stroke-width="0.6"/>
<circle cx="407.79" cy="452.43" r="1.55" fill="none" stroke="#222" stroke-width="0.6"/>
<circle cx="410.29" cy="452.57" r="1.55" fill="none" stroke="#222" stroke-width="0.6"/>
<circle cx="419.53" cy="452.99" r="1.55" fill="none" stroke="#222" stroke-width="0.6"/>
<circle cx="422.03" cy="452.99" r="1.55" fill="none" stroke="#222" stroke-width="0.6"/>
<circle cx="424.53" cy="452.85" r="1.55" fill="none" stroke="#222" stroke-width="0.6"/>
<line x1="436.27" y1="446.36" x2="436.27" y2="445.66" stroke="#222" stroke-width="0.6"/>
<line x1="433.97" y1="445.66" x2="438.57" y2="445.66" stroke="#222" stroke-width="0.6"/>
<circle cx="433.77" cy="446.64" r="1.55" fill="none" stroke="#222" stroke-width="0.6"/>
<circle cx="436.27" cy="445.94" r="1.55" fill="none" stroke="#222" stroke-width="0.6"/>
<circle cx="438.77" cy="445.94" r="1.55" fill="none" stroke="#222" stroke-width="0.6"/>
<line x1="450.51" y1="368.53" x2="450.51" y2="351.05" stroke="#222" stroke-width="0.6"/>
<line x1="448.21" y1="351.05" x2="452.81" y2="351.05" stroke="#222" stroke-width="0.6"/>
<circle cx="450.51" cy="351.05" r="1.55" fill="none" stroke="#222" stroke-width="0.6"/>
<circle cx="450.51" cy="372.62" r="1.55" fill="none" stroke="#222" stroke-width="0.6"/>
<circle cx="450.51" cy="380.38" r="1.55" fill="none" stroke="#222" stroke-width="0.6"/>
<circle cx="462.25" cy="453.27" r="1.55" fill="none" stroke="#222" stroke-width="0.6"/>
<circle cx="464.75" cy="453.13" r="1.55" fill="none" stroke="#222" stroke-width="0.6"/>
<circle cx="467.25" cy="452.99" r="1.55" fill="none" stroke="#222" stroke-width="0.6"/>
<line x1="478.99" y1="449.46" x2="478.99" y2="443.12" stroke="#222" stroke-width="0.6"/>
<line x1="476.69" y1="443.12" x2="481.29" y2="443.12" stroke="#222" stroke-width="0.6"/>
<circle cx="478.99" cy="443.12" r="1.55" fill="none" stroke="#222" stroke-width="0.6"/>
<circle cx="476.49" cy="450.88" r="1.55" fill="none" stroke="#222" stroke-width="0.6"/>
<circle cx="481.49" cy="450.88" r="1.55" fill="none" stroke="#222" stroke-width="0.6"/>
<line x1="493.23" y1="429.16" x2="493.23" y2="428.46" stroke="#222" stroke-width="0.6"/>
<line x1="490.93" y1="428.46" x2="495.53" y2="428.46" stroke="#222" stroke-width="0.6"/>
<circle cx="490.73" cy="430.43" r="1.55" fill="none" stroke="#222" stroke-width="0.6"/>
<circle cx="493.23" cy="428.31" r="1.55" fill="none" stroke="#222" stroke-width="0.6"/>
<circle cx="495.73" cy="429.02" r="1.55" fill="none" stroke="#222" stroke-width="0.6"/>
<line x1="507.47" y1="387" x2="507.47" y2="386.01" stroke="#222" stroke-width="0.6"/>
<line x1="505.17" y1="386.01" x2="509.77" y2="386.01" stroke="#222" stroke-width="0.6"/>
<circle cx="504.97" cy="385.31" r="1.55" fill="none" stroke="#222" stroke-width="0.6"/>
<circle cx="507.47" cy="388.13" r="1.55" fill="none" stroke="#222" stroke-width="0.6"/>
<circle cx="509.97" cy="386.01" r="1.55" fill="none" stroke="#222" stroke-width="0.6"/>
<line x1="521.71" y1="451.58" x2="521.71" y2="450.17" stroke="#222" stroke-width="0.6"/>
<line x1="519.41" y1="450.17" x2="524.01" y2="450.17" stroke="#222" stroke-width="0.6"/>
<circle cx="519.21" cy="451.58" r="1.55" fill="none" stroke="#222" stroke-width="0.6"/>
<circle cx="521.71" cy="450.17" r="1.55" fill="none" stroke="#222" stroke-width="0.6"/>
<circle cx="524.21" cy="451.58" r="1.55" fill="none" stroke="#222" stroke-width="0.6"/>
<circle cx="533.45" cy="452.71" r="1.55" fill="none" stroke="#222" stroke-width="0.6"/>
<circle cx="535.95" cy="452.71" r="1.55" fill="none" stroke="#222" stroke-width="0.6"/>
<circle cx="538.45" cy="452.43" r="1.55" fill="none" stroke="#222" stroke-width="0.6"/>
<line x1="550.19" y1="413.23" x2="550.19" y2="388.27" stroke="#222" stroke-width="0.6"/>
<line x1="547.89" y1="388.27" x2="552.49" y2="388.27" stroke="#222" stroke-width="0.6"/>
<circle cx="550.19" cy="384.6" r="1.55" fill="none" stroke="#222" stroke-width="0.6"/>
<circle cx="550.19" cy="430.43" r="1.55" fill="none" stroke="#222" stroke-width="0.6"/>
<circle cx="550.19" cy="424.51" r="1.55" fill="none" stroke="#222" stroke-width="0.6"/>
<line x1="564.43" y1="354.85" x2="564.43" y2="348.93" stroke="#222" stroke-width="0.6"/>
<line x1="562.13" y1="348.93" x2="566.73" y2="348.93" stroke="#222" stroke-width="0.6"/>
<circle cx="564.43" cy="348.93" r="1.55" fill="none" stroke="#222" stroke-width="0.6"/>
<circle cx="561.93" cy="357.81" r="1.55" fill="none" stroke="#222" stroke-width="0.6"/>
<circle cx="566.93" cy="355.7" r="1.55" fill="none" stroke="#222" stroke-width="0.6"/>
<line x1="578.67" y1="436.92" x2="578.67" y2="436.35" stroke="#222" stroke-width="0.6"/>
<line x1="576.37" y1="436.35" x2="580.97" y2="436.35" stroke="#222" stroke-width="0.6"/>
<circle cx="576.17" cy="437.48" r="1.55" fill="none" stroke="#222" stroke-width="0.6"/>
<circle cx="578.67" cy="436.35" r="1.55" fill="none" stroke="#222" stroke-width="0.6"/>
<circle cx="581.17" cy="436.63" r="1.55" fill="none" stroke="#222" stroke-width="0.6"/>
<line x1="592.91" y1="427.61" x2="592.91" y2="426.9" stroke="#222" stroke-width="0.6"/>
<line x1="590.61" y1="426.9" x2="595.21" y2="426.9" stroke="#222" stroke-width="0.6"/>
<circle cx="590.41" cy="429.02" r="1.55" fill="none" stroke="#222" stroke-width="0.6"/>
<circle cx="592.91" cy="426.9" r="1.55" fill="none" stroke="#222" stroke-width="0.6"/>
<circle cx="595.41" cy="427.61" r="1.55" fill="none" stroke="#222" stroke-width="0.6"/>
<line x1="607.15" y1="443.54" x2="607.15" y2="442.84" stroke="#222" stroke-width="0.6"/>
<line x1="604.85" y1="442.84" x2="609.45" y2="442.84" stroke="#222" stroke-width="0.6"/>
<circle cx="604.65" cy="443.82" r="1.55" fill="none" stroke="#222" stroke-width="0.6"/>
<circle cx="607.15" cy="443.12" r="1.55" fill="none" stroke="#222" stroke-width="0.6"/>
<circle cx="609.65" cy="443.4" r="1.55" fill="none" stroke="#222" stroke-width="0.6"/>
<line x1="621.39" y1="387" x2="621.39" y2="382.49" stroke="#222" stroke-width="0.6"/>
<line x1="619.09" y1="382.49" x2="623.69" y2="382.49" stroke="#222" stroke-width="0.6"/>
<circle cx="621.39" cy="382.49" r="1.55" fill="none" stroke="#222" stroke-width="0.6"/>
<circle cx="621.39" cy="389.54" r="1.55" fill="none" stroke="#222" stroke-width="0.6"/>
<circle cx="621.39" cy="387.42" r="1.55" fill="none" stroke="#222" stroke-width="0.6"/>
<circle cx="633.13" cy="452.71" r="1.55" fill="none" stroke="#222" stroke-width="0.6"/>
<circle cx="635.63" cy="452.14" r="1.55" fill="none" stroke="#222" stroke-width="0.6"/>
<circle cx="638.13" cy="452.43" r="1.55" fill="none" stroke="#222" stroke-width="0.6"/>
<circle cx="647.37" cy="451.58" r="1.55" fill="none" stroke="#222" stroke-width="0.6"/>
<circle cx="649.87" cy="451.3" r="1.55" fill="none" stroke="#222" stroke-width="0.6"/>
<circle cx="652.37" cy="451.58" r="1.55" fill="none" stroke="#222" stroke-width="0.6"/>
<line x1="379.7" y1="454.4" x2="659.7" y2="454.4" stroke="#555" stroke-width="1"/>
<line x1="393.55" y1="454.4" x2="393.55" y2="457.6" stroke="#555" stroke-width="0.7"/>
<text transform="translate(396.95 465.7) rotate(-45)" font-size="7.6" fill="#222" text-anchor="end">Mctrl</text>
<line x1="407.79" y1="454.4" x2="407.79" y2="457.6" stroke="#555" stroke-width="0.7"/>
<text transform="translate(411.19 465.7) rotate(-45)" font-size="7.6" fill="#222" text-anchor="end">A–B</text>
<line x1="422.03" y1="454.4" x2="422.03" y2="457.6" stroke="#555" stroke-width="0.7"/>
<text transform="translate(425.43 465.7) rotate(-45)" font-size="7.6" fill="#222" text-anchor="end">A–B:<tspan font-style="italic">FLO1</tspan></text>
<line x1="436.27" y1="454.4" x2="436.27" y2="457.6" stroke="#555" stroke-width="0.7"/>
<text transform="translate(439.67 465.7) rotate(-45)" font-size="7.6" fill="#222" text-anchor="end">A–B</text>
<line x1="450.51" y1="454.4" x2="450.51" y2="457.6" stroke="#555" stroke-width="0.7"/>
<text transform="translate(453.91 465.7) rotate(-45)" font-size="7.6" fill="#222" text-anchor="end">A–B:<tspan font-style="italic">FLO1</tspan></text>
<line x1="464.75" y1="454.4" x2="464.75" y2="457.6" stroke="#555" stroke-width="0.7"/>
<text transform="translate(468.15 465.7) rotate(-45)" font-size="7.6" fill="#222" text-anchor="end">B–A</text>
<line x1="478.99" y1="454.4" x2="478.99" y2="457.6" stroke="#555" stroke-width="0.7"/>
<text transform="translate(482.39 465.7) rotate(-45)" font-size="7.6" fill="#222" text-anchor="end">B–A:<tspan font-style="italic">FLO1</tspan></text>
<line x1="493.23" y1="454.4" x2="493.23" y2="457.6" stroke="#555" stroke-width="0.7"/>
<text transform="translate(496.63 465.7) rotate(-45)" font-size="7.6" fill="#222" text-anchor="end">B–A</text>
<line x1="507.47" y1="454.4" x2="507.47" y2="457.6" stroke="#555" stroke-width="0.7"/>
<text transform="translate(510.87 465.7) rotate(-45)" font-size="7.6" fill="#222" text-anchor="end">B–A:<tspan font-style="italic">FLO1</tspan></text>
<line x1="521.71" y1="454.4" x2="521.71" y2="457.6" stroke="#555" stroke-width="0.7"/>
<text transform="translate(525.11 465.7) rotate(-45)" font-size="7.6" fill="#222" text-anchor="end">A–B</text>
<line x1="535.95" y1="454.4" x2="535.95" y2="457.6" stroke="#555" stroke-width="0.7"/>
<text transform="translate(539.35 465.7) rotate(-45)" font-size="7.6" fill="#222" text-anchor="end">A–B:<tspan font-style="italic">FLO1</tspan></text>
<line x1="550.19" y1="454.4" x2="550.19" y2="457.6" stroke="#555" stroke-width="0.7"/>
<text transform="translate(553.59 465.7) rotate(-45)" font-size="7.6" fill="#222" text-anchor="end">A–B</text>
<line x1="564.43" y1="454.4" x2="564.43" y2="457.6" stroke="#555" stroke-width="0.7"/>
<text transform="translate(567.83 465.7) rotate(-45)" font-size="7.6" fill="#222" text-anchor="end">A–B:<tspan font-style="italic">FLO1</tspan></text>
<line x1="578.67" y1="454.4" x2="578.67" y2="457.6" stroke="#555" stroke-width="0.7"/>
<text transform="translate(582.07 465.7) rotate(-45)" font-size="7.6" fill="#222" text-anchor="end">B–A</text>
<line x1="592.91" y1="454.4" x2="592.91" y2="457.6" stroke="#555" stroke-width="0.7"/>
<text transform="translate(596.31 465.7) rotate(-45)" font-size="7.6" fill="#222" text-anchor="end">B–A:<tspan font-style="italic">FLO1</tspan></text>
<line x1="607.15" y1="454.4" x2="607.15" y2="457.6" stroke="#555" stroke-width="0.7"/>
<text transform="translate(610.55 465.7) rotate(-45)" font-size="7.6" fill="#222" text-anchor="end">A–B</text>
<line x1="621.39" y1="454.4" x2="621.39" y2="457.6" stroke="#555" stroke-width="0.7"/>
<text transform="translate(624.79 465.7) rotate(-45)" font-size="7.6" fill="#222" text-anchor="end">A–B:<tspan font-style="italic">FLO1</tspan></text>
<line x1="635.63" y1="454.4" x2="635.63" y2="457.6" stroke="#555" stroke-width="0.7"/>
<text transform="translate(639.03 465.7) rotate(-45)" font-size="7.6" fill="#222" text-anchor="end">B–A</text>
<line x1="649.87" y1="454.4" x2="649.87" y2="457.6" stroke="#555" stroke-width="0.7"/>
<text transform="translate(653.27 465.7) rotate(-45)" font-size="7.6" fill="#222" text-anchor="end">B–A:<tspan font-style="italic">FLO1</tspan></text>
<line x1="380.8" y1="495.4" x2="397.9" y2="495.4" stroke="#8db3d8" stroke-width="1.1"/>
<text x="389.35" y="504.8" font-size="8" fill="#8db3d8" text-anchor="middle">Nctrl</text>
<line x1="408.1" y1="495.4" x2="426" y2="495.4" stroke="#1f9893" stroke-width="1.1"/>
<text x="417.05" y="504.8" font-size="8" fill="#1f9893" text-anchor="middle">Lys–Ade</text>
<line x1="436.8" y1="495.4" x2="454.1" y2="495.4" stroke="#8db3d8" stroke-width="1.1"/>
<text x="445.45" y="504.8" font-size="8" fill="#8db3d8" text-anchor="middle">Nctrl</text>
<line x1="463.5" y1="495.4" x2="481.4" y2="495.4" stroke="#1f9893" stroke-width="1.1"/>
<text x="472.45" y="504.8" font-size="8" fill="#1f9893" text-anchor="middle">Lys–Ade</text>
<line x1="494.2" y1="495.4" x2="511.9" y2="495.4" stroke="#8db3d8" stroke-width="1.1"/>
<text x="503.05" y="504.8" font-size="8" fill="#8db3d8" text-anchor="middle">Nctrl</text>
<line x1="525.3" y1="495.4" x2="567.3" y2="495.4" stroke="#bf9cc4" stroke-width="1.1"/>
<text x="546.3" y="504.8" font-size="8" fill="#bf9cc4" text-anchor="middle">Trp2–Trp4</text>
<line x1="581" y1="495.4" x2="623" y2="495.4" stroke="#6464b8" stroke-width="1.1"/>
<text x="602" y="504.8" font-size="8" fill="#6464b8" text-anchor="middle">Met–Trp4</text>
<line x1="390.6" y1="508.6" x2="468.4" y2="508.6" stroke="#777" stroke-width="1.5"/>
<text x="409.2" y="519.4" font-size="7.6" fill="#222">OD<tspan font-size="5" dy="1.8">i</tspan><tspan dy="-1.8"> = 10:1</tspan></text>
<line x1="501.1" y1="508.6" x2="597" y2="508.6" stroke="#777" stroke-width="1.5"/>
<text x="537.1" y="519.4" font-size="7.6" fill="#222">OD<tspan font-size="5" dy="1.8">i</tspan><tspan dy="-1.8"> = 1:1</tspan></text>
<rect x="391.9" y="305.3" width="7.6" height="7.6" fill="#7ba6cb"/>
<text x="404.2" y="312.3" font-size="8.9" fill="#222">Nctrl</text>
<rect x="391.9" y="317.4" width="7.6" height="7.6" fill="#00807a"/>
<text x="404.2" y="324.4" font-size="8.9" fill="#222">Lys–Ade</text>
<rect x="450.7" y="305.3" width="7.6" height="7.6" fill="#b08ab4"/>
<text x="463.3" y="312.3" font-size="8.9" fill="#222">Trp2–Trp4</text>
<rect x="450.7" y="317.4" width="7.6" height="7.6" fill="#5c5cae"/>
<text x="463.3" y="324.4" font-size="8.9" fill="#222">Met–Trp4</text>
<text x="353.5" y="306.7" font-size="13" fill="#000" font-weight="bold" stroke="#000" stroke-width="0.45">d</text>
<text transform="translate(362.8 383.4) rotate(-90)" font-size="8.45" fill="#222" text-anchor="middle"><tspan font-style="italic">p</tspan>-Coumaric acid (μM)</text>
<line x1="45.9" y1="555.3" x2="45.9" y2="696.2" stroke="#a0a0a0" stroke-width="1.1"/>
<line x1="41.4" y1="696.2" x2="45.9" y2="696.2" stroke="#555" stroke-width="0.8"/>
<text x="37.4" y="698.5" font-size="6.6" fill="#333" text-anchor="end">0</text>
<line x1="41.4" y1="668.12" x2="45.9" y2="668.12" stroke="#555" stroke-width="0.8"/>
<text x="37.4" y="670.42" font-size="6.6" fill="#333" text-anchor="end">0.2</text>
<line x1="41.4" y1="640.04" x2="45.9" y2="640.04" stroke="#555" stroke-width="0.8"/>
<text x="37.4" y="642.34" font-size="6.6" fill="#333" text-anchor="end">0.4</text>
<line x1="41.4" y1="611.96" x2="45.9" y2="611.96" stroke="#555" stroke-width="0.8"/>
<text x="37.4" y="614.26" font-size="6.6" fill="#333" text-anchor="end">0.6</text>
<line x1="41.4" y1="583.88" x2="45.9" y2="583.88" stroke="#555" stroke-width="0.8"/>
<text x="37.4" y="586.18" font-size="6.6" fill="#333" text-anchor="end">0.8</text>
<line x1="41.4" y1="555.8" x2="45.9" y2="555.8" stroke="#555" stroke-width="0.8"/>
<text x="37.4" y="558.1" font-size="6.6" fill="#333" text-anchor="end">1.0</text>
<rect x="50.9" y="656.75" width="9.4" height="39.45" fill="#9b9b9b"/>
<rect x="65.15" y="687.35" width="9.4" height="8.85" fill="#7ba6cb"/>
<rect x="79.4" y="689.6" width="9.4" height="6.6" fill="#7ba6cb"/>
<rect x="93.65" y="676.54" width="9.4" height="19.66" fill="#00807a"/>
<rect x="107.9" y="693.25" width="9.4" height="2.95" fill="#00807a"/>
<rect x="122.15" y="691.15" width="9.4" height="5.05" fill="#7ba6cb"/>
<rect x="136.4" y="672.61" width="9.4" height="23.59" fill="#7ba6cb"/>
<rect x="150.65" y="648.46" width="9.4" height="47.74" fill="#00807a"/>
<rect x="164.9" y="695.5" width="9.4" height="0.7" fill="#00807a"/>
<rect x="179.15" y="685.39" width="9.4" height="10.81" fill="#7ba6cb"/>
<rect x="193.4" y="657.31" width="9.4" height="38.89" fill="#7ba6cb"/>
<rect x="207.65" y="694.52" width="9.4" height="1.68" fill="#b08ab4"/>
<rect x="221.9" y="695.08" width="9.4" height="1.12" fill="#b08ab4"/>
<rect x="236.15" y="689.6" width="9.4" height="6.6" fill="#b08ab4"/>
<rect x="250.4" y="695.64" width="9.4" height="0.56" fill="#b08ab4"/>
<rect x="264.65" y="639.06" width="9.4" height="57.14" fill="#5c5cae"/>
<rect x="278.9" y="601.29" width="9.4" height="94.91" fill="#5c5cae"/>
<rect x="293.15" y="687.78" width="9.4" height="8.42" fill="#5c5cae"/>
<rect x="307.4" y="676.68" width="9.4" height="19.52" fill="#5c5cae"/>
<line x1="55.6" y1="656.75" x2="55.6" y2="655.48" stroke="#222" stroke-width="0.6"/>
<line x1="53.3" y1="655.48" x2="57.9" y2="655.48" stroke="#222" stroke-width="0.6"/>
<circle cx="53.1" cy="656.89" r="1.55" fill="none" stroke="#222" stroke-width="0.6"/>
<circle cx="55.6" cy="658.99" r="1.55" fill="none" stroke="#222" stroke-width="0.6"/>
<circle cx="58.1" cy="656.89" r="1.55" fill="none" stroke="#222" stroke-width="0.6"/>
<line x1="69.85" y1="687.35" x2="69.85" y2="686.65" stroke="#222" stroke-width="0.6"/>
<line x1="67.55" y1="686.65" x2="72.15" y2="686.65" stroke="#222" stroke-width="0.6"/>
<circle cx="67.35" cy="687.78" r="1.55" fill="none" stroke="#222" stroke-width="0.6"/>
<circle cx="69.85" cy="687.07" r="1.55" fill="none" stroke="#222" stroke-width="0.6"/>
<circle cx="72.35" cy="687.5" r="1.55" fill="none" stroke="#222" stroke-width="0.6"/>
<circle cx="81.6" cy="689.88" r="1.55" fill="none" stroke="#222" stroke-width="0.6"/>
<circle cx="84.1" cy="689.18" r="1.55" fill="none" stroke="#222" stroke-width="0.6"/>
<circle cx="86.6" cy="689.46" r="1.55" fill="none" stroke="#222" stroke-width="0.6"/>
<line x1="98.35" y1="676.54" x2="98.35" y2="675.84" stroke="#222" stroke-width="0.6"/>
<line x1="96.05" y1="675.84" x2="100.65" y2="675.84" stroke="#222" stroke-width="0.6"/>
<circle cx="95.85" cy="677.25" r="1.55" fill="none" stroke="#222" stroke-width="0.6"/>
<circle cx="98.35" cy="676.12" r="1.55" fill="none" stroke="#222" stroke-width="0.6"/>
<circle cx="100.85" cy="676.12" r="1.55" fill="none" stroke="#222" stroke-width="0.6"/>
<line x1="112.6" y1="693.25" x2="112.6" y2="688.2" stroke="#222" stroke-width="0.6"/>
<line x1="110.3" y1="688.2" x2="114.9" y2="688.2" stroke="#222" stroke-width="0.6"/>
<circle cx="112.6" cy="688.48" r="1.55" fill="none" stroke="#222" stroke-width="0.6"/>
<circle cx="110.1" cy="694.8" r="1.55" fill="none" stroke="#222" stroke-width="0.6"/>
<circle cx="115.1" cy="694.09" r="1.55" fill="none" stroke="#222" stroke-width="0.6"/>
<line x1="126.85" y1="691.15" x2="126.85" y2="690.58" stroke="#222" stroke-width="0.6"/>
<line x1="124.55" y1="690.58" x2="129.15" y2="690.58" stroke="#222" stroke-width="0.6"/>
<circle cx="124.35" cy="690.58" r="1.55" fill="none" stroke="#222" stroke-width="0.6"/>
<circle cx="126.85" cy="691.99" r="1.55" fill="none" stroke="#222" stroke-width="0.6"/>
<circle cx="129.35" cy="690.58" r="1.55" fill="none" stroke="#222" stroke-width="0.6"/>
<line x1="141.1" y1="672.61" x2="141.1" y2="663.91" stroke="#222" stroke-width="0.6"/>
<line x1="138.8" y1="663.91" x2="143.4" y2="663.91" stroke="#222" stroke-width="0.6"/>
<circle cx="141.1" cy="663.91" r="1.55" fill="none" stroke="#222" stroke-width="0.6"/>
<circle cx="138.6" cy="676.54" r="1.55" fill="none" stroke="#222" stroke-width="0.6"/>
<circle cx="143.6" cy="676.54" r="1.55" fill="none" stroke="#222" stroke-width="0.6"/>
<line x1="155.35" y1="648.46" x2="155.35" y2="647.76" stroke="#222" stroke-width="0.6"/>
<line x1="153.05" y1="647.76" x2="157.65" y2="647.76" stroke="#222" stroke-width="0.6"/>
<circle cx="152.85" cy="649.17" r="1.55" fill="none" stroke="#222" stroke-width="0.6"/>
<circle cx="155.35" cy="647.76" r="1.55" fill="none" stroke="#222" stroke-width="0.6"/>
<circle cx="157.85" cy="648.46" r="1.55" fill="none" stroke="#222" stroke-width="0.6"/>
<circle cx="167.1" cy="695.64" r="1.55" fill="none" stroke="#222" stroke-width="0.6"/>
<circle cx="169.6" cy="695.5" r="1.55" fill="none" stroke="#222" stroke-width="0.6"/>
<circle cx="172.1" cy="695.36" r="1.55" fill="none" stroke="#222" stroke-width="0.6"/>
<line x1="183.85" y1="685.39" x2="183.85" y2="677.11" stroke="#222" stroke-width="0.6"/>
<line x1="181.55" y1="677.11" x2="186.15" y2="677.11" stroke="#222" stroke-width="0.6"/>
<circle cx="183.85" cy="677.95" r="1.55" fill="none" stroke="#222" stroke-width="0.6"/>
<circle cx="183.85" cy="682.16" r="1.55" fill="none" stroke="#222" stroke-width="0.6"/>
<circle cx="183.85" cy="691.99" r="1.55" fill="none" stroke="#222" stroke-width="0.6"/>
<line x1="198.1" y1="657.31" x2="198.1" y2="656.19" stroke="#222" stroke-width="0.6"/>
<line x1="195.8" y1="656.19" x2="200.4" y2="656.19" stroke="#222" stroke-width="0.6"/>
<circle cx="195.6" cy="658.29" r="1.55" fill="none" stroke="#222" stroke-width="0.6"/>
<circle cx="198.1" cy="656.19" r="1.55" fill="none" stroke="#222" stroke-width="0.6"/>
<circle cx="200.6" cy="656.89" r="1.55" fill="none" stroke="#222" stroke-width="0.6"/>
<line x1="212.35" y1="694.52" x2="212.35" y2="693.39" stroke="#222" stroke-width="0.6"/>
<line x1="210.05" y1="693.39" x2="214.65" y2="693.39" stroke="#222" stroke-width="0.6"/>
<circle cx="209.85" cy="694.09" r="1.55" fill="none" stroke="#222" stroke-width="0.6"/>
<circle cx="212.35" cy="694.8" r="1.55" fill="none" stroke="#222" stroke-width="0.6"/>
<circle cx="214.85" cy="694.09" r="1.55" fill="none" stroke="#222" stroke-width="0.6"/>
<line x1="226.6" y1="695.08" x2="226.6" y2="694.52" stroke="#222" stroke-width="0.6"/>
<line x1="224.3" y1="694.52" x2="228.9" y2="694.52" stroke="#222" stroke-width="0.6"/>
<circle cx="224.1" cy="695.5" r="1.55" fill="none" stroke="#222" stroke-width="0.6"/>
<circle cx="226.6" cy="694.8" r="1.55" fill="none" stroke="#222" stroke-width="0.6"/>
<circle cx="229.1" cy="695.08" r="1.55" fill="none" stroke="#222" stroke-width="0.6"/>
<circle cx="238.35" cy="689.88" r="1.55" fill="none" stroke="#222" stroke-width="0.6"/>
<circle cx="240.85" cy="689.18" r="1.55" fill="none" stroke="#222" stroke-width="0.6"/>
<circle cx="243.35" cy="689.46" r="1.55" fill="none" stroke="#222" stroke-width="0.6"/>
<circle cx="252.6" cy="695.64" r="1.55" fill="none" stroke="#222" stroke-width="0.6"/>
<circle cx="255.1" cy="695.5" r="1.55" fill="none" stroke="#222" stroke-width="0.6"/>
<circle cx="257.6" cy="695.64" r="1.55" fill="none" stroke="#222" stroke-width="0.6"/>
<line x1="269.35" y1="639.06" x2="269.35" y2="635.83" stroke="#222" stroke-width="0.6"/>
<line x1="267.05" y1="635.83" x2="271.65" y2="635.83" stroke="#222" stroke-width="0.6"/>
<circle cx="269.35" cy="635.83" r="1.55" fill="none" stroke="#222" stroke-width="0.6"/>
<circle cx="266.85" cy="640.04" r="1.55" fill="none" stroke="#222" stroke-width="0.6"/>
<circle cx="271.85" cy="640.04" r="1.55" fill="none" stroke="#222" stroke-width="0.6"/>
<line x1="283.6" y1="601.29" x2="283.6" y2="582.48" stroke="#222" stroke-width="0.6"/>
<line x1="281.3" y1="582.48" x2="285.9" y2="582.48" stroke="#222" stroke-width="0.6"/>
<circle cx="283.6" cy="579.39" r="1.55" fill="none" stroke="#222" stroke-width="0.6"/>
<circle cx="283.6" cy="608.59" r="1.55" fill="none" stroke="#222" stroke-width="0.6"/>
<circle cx="283.6" cy="615.89" r="1.55" fill="none" stroke="#222" stroke-width="0.6"/>
<line x1="297.85" y1="687.78" x2="297.85" y2="687.07" stroke="#222" stroke-width="0.6"/>
<line x1="295.55" y1="687.07" x2="300.15" y2="687.07" stroke="#222" stroke-width="0.6"/>
<circle cx="295.35" cy="688.06" r="1.55" fill="none" stroke="#222" stroke-width="0.6"/>
<circle cx="297.85" cy="687.07" r="1.55" fill="none" stroke="#222" stroke-width="0.6"/>
<circle cx="300.35" cy="687.5" r="1.55" fill="none" stroke="#222" stroke-width="0.6"/>
<line x1="312.1" y1="676.68" x2="312.1" y2="673.74" stroke="#222" stroke-width="0.6"/>
<line x1="309.8" y1="673.74" x2="314.4" y2="673.74" stroke="#222" stroke-width="0.6"/>
<circle cx="312.1" cy="673.74" r="1.55" fill="none" stroke="#222" stroke-width="0.6"/>
<circle cx="312.1" cy="675.14" r="1.55" fill="none" stroke="#222" stroke-width="0.6"/>
<circle cx="312.1" cy="679.35" r="1.55" fill="none" stroke="#222" stroke-width="0.6"/>
<line x1="41.4" y1="696.2" x2="322" y2="696.2" stroke="#555" stroke-width="1"/>
<line x1="55.6" y1="696.2" x2="55.6" y2="699.4" stroke="#555" stroke-width="0.7"/>
<text transform="translate(59 707.5) rotate(-45)" font-size="7.6" fill="#222" text-anchor="end">Mctrl</text>
<line x1="69.85" y1="696.2" x2="69.85" y2="699.4" stroke="#555" stroke-width="0.7"/>
<text transform="translate(73.25 707.5) rotate(-45)" font-size="7.6" fill="#222" text-anchor="end">A–B</text>
<line x1="84.1" y1="696.2" x2="84.1" y2="699.4" stroke="#555" stroke-width="0.7"/>
<text transform="translate(87.5 707.5) rotate(-45)" font-size="7.6" fill="#222" text-anchor="end">A–B:<tspan font-style="italic">FLO1</tspan></text>
<line x1="98.35" y1="696.2" x2="98.35" y2="699.4" stroke="#555" stroke-width="0.7"/>
<text transform="translate(101.75 707.5) rotate(-45)" font-size="7.6" fill="#222" text-anchor="end">A–B</text>
<line x1="112.6" y1="696.2" x2="112.6" y2="699.4" stroke="#555" stroke-width="0.7"/>
<text transform="translate(116 707.5) rotate(-45)" font-size="7.6" fill="#222" text-anchor="end">A–B:<tspan font-style="italic">FLO1</tspan></text>
<line x1="126.85" y1="696.2" x2="126.85" y2="699.4" stroke="#555" stroke-width="0.7"/>
<text transform="translate(130.25 707.5) rotate(-45)" font-size="7.6" fill="#222" text-anchor="end">B–A</text>
<line x1="141.1" y1="696.2" x2="141.1" y2="699.4" stroke="#555" stroke-width="0.7"/>
<text transform="translate(144.5 707.5) rotate(-45)" font-size="7.6" fill="#222" text-anchor="end">B–A:<tspan font-style="italic">FLO1</tspan></text>
<line x1="155.35" y1="696.2" x2="155.35" y2="699.4" stroke="#555" stroke-width="0.7"/>
<text transform="translate(158.75 707.5) rotate(-45)" font-size="7.6" fill="#222" text-anchor="end">B–A</text>
<line x1="169.6" y1="696.2" x2="169.6" y2="699.4" stroke="#555" stroke-width="0.7"/>
<text transform="translate(173 707.5) rotate(-45)" font-size="7.6" fill="#222" text-anchor="end">B–A:<tspan font-style="italic">FLO1</tspan></text>
<line x1="183.85" y1="696.2" x2="183.85" y2="699.4" stroke="#555" stroke-width="0.7"/>
<text transform="translate(187.25 707.5) rotate(-45)" font-size="7.6" fill="#222" text-anchor="end">A–B</text>
<line x1="198.1" y1="696.2" x2="198.1" y2="699.4" stroke="#555" stroke-width="0.7"/>
<text transform="translate(201.5 707.5) rotate(-45)" font-size="7.6" fill="#222" text-anchor="end">A–B:<tspan font-style="italic">FLO1</tspan></text>
<line x1="212.35" y1="696.2" x2="212.35" y2="699.4" stroke="#555" stroke-width="0.7"/>
<text transform="translate(215.75 707.5) rotate(-45)" font-size="7.6" fill="#222" text-anchor="end">A–B</text>
<line x1="226.6" y1="696.2" x2="226.6" y2="699.4" stroke="#555" stroke-width="0.7"/>
<text transform="translate(230 707.5) rotate(-45)" font-size="7.6" fill="#222" text-anchor="end">A–B:<tspan font-style="italic">FLO1</tspan></text>
<line x1="240.85" y1="696.2" x2="240.85" y2="699.4" stroke="#555" stroke-width="0.7"/>
<text transform="translate(244.25 707.5) rotate(-45)" font-size="7.6" fill="#222" text-anchor="end">B–A</text>
<line x1="255.1" y1="696.2" x2="255.1" y2="699.4" stroke="#555" stroke-width="0.7"/>
<text transform="translate(258.5 707.5) rotate(-45)" font-size="7.6" fill="#222" text-anchor="end">B–A:<tspan font-style="italic">FLO1</tspan></text>
<line x1="269.35" y1="696.2" x2="269.35" y2="699.4" stroke="#555" stroke-width="0.7"/>
<text transform="translate(272.75 707.5) rotate(-45)" font-size="7.6" fill="#222" text-anchor="end">A–B</text>
<line x1="283.6" y1="696.2" x2="283.6" y2="699.4" stroke="#555" stroke-width="0.7"/>
<text transform="translate(287 707.5) rotate(-45)" font-size="7.6" fill="#222" text-anchor="end">A–B:<tspan font-style="italic">FLO1</tspan></text>
<line x1="297.85" y1="696.2" x2="297.85" y2="699.4" stroke="#555" stroke-width="0.7"/>
<text transform="translate(301.25 707.5) rotate(-45)" font-size="7.6" fill="#222" text-anchor="end">B–A</text>
<line x1="312.1" y1="696.2" x2="312.1" y2="699.4" stroke="#555" stroke-width="0.7"/>
<text transform="translate(315.5 707.5) rotate(-45)" font-size="7.6" fill="#222" text-anchor="end">B–A:<tspan font-style="italic">FLO1</tspan></text>
<line x1="42.8" y1="738.2" x2="59.9" y2="738.2" stroke="#8db3d8" stroke-width="1.1"/>
<text x="51.35" y="747.6" font-size="8" fill="#8db3d8" text-anchor="middle">Nctrl</text>
<line x1="70.1" y1="738.2" x2="88" y2="738.2" stroke="#1f9893" stroke-width="1.1"/>
<text x="79.05" y="747.6" font-size="8" fill="#1f9893" text-anchor="middle">Lys–Ade</text>
<line x1="98.8" y1="738.2" x2="116.1" y2="738.2" stroke="#8db3d8" stroke-width="1.1"/>
<text x="107.45" y="747.6" font-size="8" fill="#8db3d8" text-anchor="middle">Nctrl</text>
<line x1="125.5" y1="738.2" x2="143.4" y2="738.2" stroke="#1f9893" stroke-width="1.1"/>
<text x="134.45" y="747.6" font-size="8" fill="#1f9893" text-anchor="middle">Lys–Ade</text>
<line x1="156.2" y1="738.2" x2="173.9" y2="738.2" stroke="#8db3d8" stroke-width="1.1"/>
<text x="165.05" y="747.6" font-size="8" fill="#8db3d8" text-anchor="middle">Nctrl</text>
<line x1="187.3" y1="738.2" x2="229.3" y2="738.2" stroke="#bf9cc4" stroke-width="1.1"/>
<text x="208.3" y="747.6" font-size="8" fill="#bf9cc4" text-anchor="middle">Trp2–Trp4</text>
<line x1="243" y1="738.2" x2="285" y2="738.2" stroke="#6464b8" stroke-width="1.1"/>
<text x="264" y="747.6" font-size="8" fill="#6464b8" text-anchor="middle">Met–Trp4</text>
<line x1="52.6" y1="751.4" x2="130.4" y2="751.4" stroke="#777" stroke-width="1.5"/>
<text x="71.2" y="762.2" font-size="7.6" fill="#222">OD<tspan font-size="5" dy="1.8">i</tspan><tspan dy="-1.8"> = 10:1</tspan></text>
<line x1="163.1" y1="751.4" x2="259" y2="751.4" stroke="#777" stroke-width="1.5"/>
<text x="199.1" y="762.2" font-size="7.6" fill="#222">OD<tspan font-size="5" dy="1.8">i</tspan><tspan dy="-1.8"> = 1:1</tspan></text>
<rect x="54.1" y="546.4" width="7.6" height="7.6" fill="#7ba6cb"/>
<text x="66.4" y="553.4" font-size="8.9" fill="#222">Nctrl</text>
<rect x="54.1" y="558.5" width="7.6" height="7.6" fill="#00807a"/>
<text x="66.4" y="565.5" font-size="8.9" fill="#222">Lys–Ade</text>
<rect x="112.9" y="546.4" width="7.6" height="7.6" fill="#b08ab4"/>
<text x="125.5" y="553.4" font-size="8.9" fill="#222">Trp2–Trp4</text>
<rect x="112.9" y="558.5" width="7.6" height="7.6" fill="#5c5cae"/>
<text x="125.5" y="565.5" font-size="8.9" fill="#222">Met–Trp4</text>
<text x="1.5" y="548.5" font-size="13" fill="#000" font-weight="bold" stroke="#000" stroke-width="0.45">e</text>
<text transform="translate(19 625.7) rotate(-90)" font-size="8.35" fill="#222" text-anchor="middle">Resveratrol (μM)</text>
<text x="127.8" y="598.1" font-size="6.7" fill="#222"><tspan font-style="italic">P</tspan> &lt; 0.0001</text>
<path d="M126.7 659.5 V602.8 H154.4 V610.5" fill="none" stroke="#aaa" stroke-width="1"/>
<text x="129.9" y="622.7" font-size="6.7" fill="#222"><tspan font-style="italic">P</tspan> = 0.0081</text>
<line x1="126.7" y1="627.3" x2="143.8" y2="627.3" stroke="#888" stroke-width="1"/>
<text x="141.3" y="638.3" font-size="6.7" fill="#222"><tspan font-style="italic">P</tspan> = 0.0127</text>
<line x1="150.8" y1="643.1" x2="160" y2="643.1" stroke="#aaa" stroke-width="1"/>
<text x="180.3" y="629.1" font-size="6.7" fill="#222"><tspan font-style="italic">P</tspan> &lt; 0.0001</text>
<path d="M182.9 667 V634.2 H198.5 V641.2" fill="none" stroke="#aaa" stroke-width="1"/>
<text x="240.3" y="623.5" font-size="6.7" fill="#222"><tspan font-style="italic">P</tspan> = 0.0086</text>
<line x1="262.8" y1="629.3" x2="272.1" y2="629.3" stroke="#555" stroke-width="1"/>
<text x="262.4" y="549.9" font-size="6.7" fill="#222"><tspan font-style="italic">P</tspan> &lt; 0.0001</text>
<path d="M267.5 601.6 V553.4 H283.6 V561.2" fill="none" stroke="#888" stroke-width="1"/>
<text x="273.5" y="569.2" font-size="6.7" fill="#222"><tspan font-style="italic">P</tspan> &lt; 0.0001</text>
<line x1="278.9" y1="573.9" x2="288.7" y2="573.9" stroke="#aaa" stroke-width="1"/>
<line x1="384" y1="551.8" x2="384" y2="693.5" stroke="#a0a0a0" stroke-width="1.1"/>
<line x1="379.5" y1="693.5" x2="384" y2="693.5" stroke="#555" stroke-width="0.8"/>
<text x="375.5" y="695.8" font-size="6.6" fill="#333" text-anchor="end">0</text>
<line x1="379.5" y1="658.2" x2="384" y2="658.2" stroke="#555" stroke-width="0.8"/>
<text x="375.5" y="660.5" font-size="6.6" fill="#333" text-anchor="end">0.5</text>
<line x1="379.5" y1="622.9" x2="384" y2="622.9" stroke="#555" stroke-width="0.8"/>
<text x="375.5" y="625.2" font-size="6.6" fill="#333" text-anchor="end">1.0</text>
<line x1="379.5" y1="587.6" x2="384" y2="587.6" stroke="#555" stroke-width="0.8"/>
<text x="375.5" y="589.9" font-size="6.6" fill="#333" text-anchor="end">1.5</text>
<line x1="379.5" y1="552.3" x2="384" y2="552.3" stroke="#555" stroke-width="0.8"/>
<text x="375.5" y="554.6" font-size="6.6" fill="#333" text-anchor="end">2.0</text>
<rect x="388.8" y="674.65" width="9.5" height="18.85" fill="#9b9b9b"/>
<rect x="403.04" y="689.97" width="9.5" height="3.53" fill="#7ba6cb"/>
<rect x="417.28" y="689.97" width="9.5" height="3.53" fill="#7ba6cb"/>
<rect x="431.52" y="678.25" width="9.5" height="15.25" fill="#00807a"/>
<rect x="445.76" y="689.05" width="9.5" height="4.45" fill="#00807a"/>
<rect x="460" y="691.38" width="9.5" height="2.12" fill="#7ba6cb"/>
<rect x="474.24" y="682.2" width="9.5" height="11.3" fill="#7ba6cb"/>
<rect x="488.48" y="663.85" width="9.5" height="29.65" fill="#00807a"/>
<rect x="502.72" y="693.15" width="9.5" height="0.35" fill="#00807a"/>
<rect x="516.96" y="687.85" width="9.5" height="5.65" fill="#7ba6cb"/>
<rect x="531.2" y="672.6" width="9.5" height="20.9" fill="#7ba6cb"/>
<rect x="545.44" y="692.44" width="9.5" height="1.06" fill="#b08ab4"/>
<rect x="559.68" y="692.65" width="9.5" height="0.85" fill="#b08ab4"/>
<rect x="573.92" y="689.97" width="9.5" height="3.53" fill="#b08ab4"/>
<rect x="588.16" y="693.15" width="9.5" height="0.35" fill="#b08ab4"/>
<rect x="602.4" y="664.55" width="9.5" height="28.95" fill="#5c5cae"/>
<rect x="616.64" y="610.9" width="9.5" height="82.6" fill="#5c5cae"/>
<rect x="630.88" y="688.28" width="9.5" height="5.22" fill="#5c5cae"/>
<rect x="645.12" y="682.42" width="9.5" height="11.08" fill="#5c5cae"/>
<line x1="393.55" y1="674.65" x2="393.55" y2="670.91" stroke="#222" stroke-width="0.6"/>
<line x1="391.25" y1="670.91" x2="395.85" y2="670.91" stroke="#222" stroke-width="0.6"/>
<circle cx="393.55" cy="670.91" r="1.55" fill="none" stroke="#222" stroke-width="0.6"/>
<circle cx="391.05" cy="675.85" r="1.55" fill="none" stroke="#222" stroke-width="0.6"/>
<circle cx="396.05" cy="675.85" r="1.55" fill="none" stroke="#222" stroke-width="0.6"/>
<circle cx="405.29" cy="689.97" r="1.55" fill="none" stroke="#222" stroke-width="0.6"/>
<circle cx="407.79" cy="689.62" r="1.55" fill="none" stroke="#222" stroke-width="0.6"/>
<circle cx="410.29" cy="689.97" r="1.55" fill="none" stroke="#222" stroke-width="0.6"/>
<circle cx="419.53" cy="689.97" r="1.55" fill="none" stroke="#222" stroke-width="0.6"/>
<circle cx="422.03" cy="689.83" r="1.55" fill="none" stroke="#222" stroke-width="0.6"/>
<circle cx="424.53" cy="689.97" r="1.55" fill="none" stroke="#222" stroke-width="0.6"/>
<line x1="436.27" y1="678.25" x2="436.27" y2="677.62" stroke="#222" stroke-width="0.6"/>
<line x1="433.97" y1="677.62" x2="438.57" y2="677.62" stroke="#222" stroke-width="0.6"/>
<circle cx="433.77" cy="678.67" r="1.55" fill="none" stroke="#222" stroke-width="0.6"/>
<circle cx="436.27" cy="677.97" r="1.55" fill="none" stroke="#222" stroke-width="0.6"/>
<circle cx="438.77" cy="678.32" r="1.55" fill="none" stroke="#222" stroke-width="0.6"/>
<line x1="450.51" y1="689.05" x2="450.51" y2="682.42" stroke="#222" stroke-width="0.6"/>
<line x1="448.21" y1="682.42" x2="452.81" y2="682.42" stroke="#222" stroke-width="0.6"/>
<circle cx="450.51" cy="682.42" r="1.55" fill="none" stroke="#222" stroke-width="0.6"/>
<circle cx="450.51" cy="691.38" r="1.55" fill="none" stroke="#222" stroke-width="0.6"/>
<circle cx="450.51" cy="692.09" r="1.55" fill="none" stroke="#222" stroke-width="0.6"/>
<circle cx="462.25" cy="691.38" r="1.55" fill="none" stroke="#222" stroke-width="0.6"/>
<circle cx="464.75" cy="691.03" r="1.55" fill="none" stroke="#222" stroke-width="0.6"/>
<circle cx="467.25" cy="691.38" r="1.55" fill="none" stroke="#222" stroke-width="0.6"/>
<line x1="478.99" y1="682.2" x2="478.99" y2="678.67" stroke="#222" stroke-width="0.6"/>
<line x1="476.69" y1="678.67" x2="481.29" y2="678.67" stroke="#222" stroke-width="0.6"/>
<circle cx="478.99" cy="678.67" r="1.55" fill="none" stroke="#222" stroke-width="0.6"/>
<circle cx="476.49" cy="683.62" r="1.55" fill="none" stroke="#222" stroke-width="0.6"/>
<circle cx="481.49" cy="683.62" r="1.55" fill="none" stroke="#222" stroke-width="0.6"/>
<line x1="493.23" y1="663.85" x2="493.23" y2="663.14" stroke="#222" stroke-width="0.6"/>
<line x1="490.93" y1="663.14" x2="495.53" y2="663.14" stroke="#222" stroke-width="0.6"/>
<circle cx="490.73" cy="664.55" r="1.55" fill="none" stroke="#222" stroke-width="0.6"/>
<circle cx="493.23" cy="663.14" r="1.55" fill="none" stroke="#222" stroke-width="0.6"/>
<circle cx="495.73" cy="663.85" r="1.55" fill="none" stroke="#222" stroke-width="0.6"/>
<circle cx="504.97" cy="693.15" r="1.55" fill="none" stroke="#222" stroke-width="0.6"/>
<circle cx="507.47" cy="693.08" r="1.55" fill="none" stroke="#222" stroke-width="0.6"/>
<circle cx="509.97" cy="693.15" r="1.55" fill="none" stroke="#222" stroke-width="0.6"/>
<line x1="521.71" y1="687.85" x2="521.71" y2="685.03" stroke="#222" stroke-width="0.6"/>
<line x1="519.41" y1="685.03" x2="524.01" y2="685.03" stroke="#222" stroke-width="0.6"/>
<circle cx="519.21" cy="685.73" r="1.55" fill="none" stroke="#222" stroke-width="0.6"/>
<circle cx="521.71" cy="686.44" r="1.55" fill="none" stroke="#222" stroke-width="0.6"/>
<circle cx="521.71" cy="691.38" r="1.55" fill="none" stroke="#222" stroke-width="0.6"/>
<line x1="535.95" y1="672.6" x2="535.95" y2="671.61" stroke="#222" stroke-width="0.6"/>
<line x1="533.65" y1="671.61" x2="538.25" y2="671.61" stroke="#222" stroke-width="0.6"/>
<circle cx="533.45" cy="673.73" r="1.55" fill="none" stroke="#222" stroke-width="0.6"/>
<circle cx="535.95" cy="672.32" r="1.55" fill="none" stroke="#222" stroke-width="0.6"/>
<circle cx="538.45" cy="672.32" r="1.55" fill="none" stroke="#222" stroke-width="0.6"/>
<circle cx="547.69" cy="692.44" r="1.55" fill="none" stroke="#222" stroke-width="0.6"/>
<circle cx="550.19" cy="692.09" r="1.55" fill="none" stroke="#222" stroke-width="0.6"/>
<circle cx="552.69" cy="692.44" r="1.55" fill="none" stroke="#222" stroke-width="0.6"/>
<circle cx="561.93" cy="692.65" r="1.55" fill="none" stroke="#222" stroke-width="0.6"/>
<circle cx="564.43" cy="692.44" r="1.55" fill="none" stroke="#222" stroke-width="0.6"/>
<circle cx="566.93" cy="692.65" r="1.55" fill="none" stroke="#222" stroke-width="0.6"/>
<circle cx="576.17" cy="689.97" r="1.55" fill="none" stroke="#222" stroke-width="0.6"/>
<circle cx="578.67" cy="689.62" r="1.55" fill="none" stroke="#222" stroke-width="0.6"/>
<circle cx="581.17" cy="689.97" r="1.55" fill="none" stroke="#222" stroke-width="0.6"/>
<circle cx="590.41" cy="693.15" r="1.55" fill="none" stroke="#222" stroke-width="0.6"/>
<circle cx="592.91" cy="693.08" r="1.55" fill="none" stroke="#222" stroke-width="0.6"/>
<circle cx="595.41" cy="693.15" r="1.55" fill="none" stroke="#222" stroke-width="0.6"/>
<line x1="607.15" y1="664.55" x2="607.15" y2="662.44" stroke="#222" stroke-width="0.6"/>
<line x1="604.85" y1="662.44" x2="609.45" y2="662.44" stroke="#222" stroke-width="0.6"/>
<circle cx="607.15" cy="662.44" r="1.55" fill="none" stroke="#222" stroke-width="0.6"/>
<circle cx="604.65" cy="665.26" r="1.55" fill="none" stroke="#222" stroke-width="0.6"/>
<circle cx="609.65" cy="665.26" r="1.55" fill="none" stroke="#222" stroke-width="0.6"/>
<line x1="621.39" y1="610.9" x2="621.39" y2="590.42" stroke="#222" stroke-width="0.6"/>
<line x1="619.09" y1="590.42" x2="623.69" y2="590.42" stroke="#222" stroke-width="0.6"/>
<circle cx="621.39" cy="587.25" r="1.55" fill="none" stroke="#222" stroke-width="0.6"/>
<circle cx="618.89" cy="619.37" r="1.55" fill="none" stroke="#222" stroke-width="0.6"/>
<circle cx="623.89" cy="619.37" r="1.55" fill="none" stroke="#222" stroke-width="0.6"/>
<circle cx="633.13" cy="688.56" r="1.55" fill="none" stroke="#222" stroke-width="0.6"/>
<circle cx="635.63" cy="687.85" r="1.55" fill="none" stroke="#222" stroke-width="0.6"/>
<circle cx="638.13" cy="688.21" r="1.55" fill="none" stroke="#222" stroke-width="0.6"/>
<line x1="649.87" y1="682.42" x2="649.87" y2="676.56" stroke="#222" stroke-width="0.6"/>
<line x1="647.57" y1="676.56" x2="652.17" y2="676.56" stroke="#222" stroke-width="0.6"/>
<circle cx="649.87" cy="676.56" r="1.55" fill="none" stroke="#222" stroke-width="0.6"/>
<circle cx="647.37" cy="682.91" r="1.55" fill="none" stroke="#222" stroke-width="0.6"/>
<circle cx="652.37" cy="682.91" r="1.55" fill="none" stroke="#222" stroke-width="0.6"/>
<line x1="379.5" y1="693.5" x2="659.7" y2="693.5" stroke="#555" stroke-width="1"/>
<line x1="393.55" y1="693.5" x2="393.55" y2="696.7" stroke="#555" stroke-width="0.7"/>
<text transform="translate(396.95 704.8) rotate(-45)" font-size="7.6" fill="#222" text-anchor="end">Mctrl</text>
<line x1="407.79" y1="693.5" x2="407.79" y2="696.7" stroke="#555" stroke-width="0.7"/>
<text transform="translate(411.19 704.8) rotate(-45)" font-size="7.6" fill="#222" text-anchor="end">A–B</text>
<line x1="422.03" y1="693.5" x2="422.03" y2="696.7" stroke="#555" stroke-width="0.7"/>
<text transform="translate(425.43 704.8) rotate(-45)" font-size="7.6" fill="#222" text-anchor="end">A–B:<tspan font-style="italic">FLO1</tspan></text>
<line x1="436.27" y1="693.5" x2="436.27" y2="696.7" stroke="#555" stroke-width="0.7"/>
<text transform="translate(439.67 704.8) rotate(-45)" font-size="7.6" fill="#222" text-anchor="end">A–B</text>
<line x1="450.51" y1="693.5" x2="450.51" y2="696.7" stroke="#555" stroke-width="0.7"/>
<text transform="translate(453.91 704.8) rotate(-45)" font-size="7.6" fill="#222" text-anchor="end">A–B:<tspan font-style="italic">FLO1</tspan></text>
<line x1="464.75" y1="693.5" x2="464.75" y2="696.7" stroke="#555" stroke-width="0.7"/>
<text transform="translate(468.15 704.8) rotate(-45)" font-size="7.6" fill="#222" text-anchor="end">B–A</text>
<line x1="478.99" y1="693.5" x2="478.99" y2="696.7" stroke="#555" stroke-width="0.7"/>
<text transform="translate(482.39 704.8) rotate(-45)" font-size="7.6" fill="#222" text-anchor="end">B–A:<tspan font-style="italic">FLO1</tspan></text>
<line x1="493.23" y1="693.5" x2="493.23" y2="696.7" stroke="#555" stroke-width="0.7"/>
<text transform="translate(496.63 704.8) rotate(-45)" font-size="7.6" fill="#222" text-anchor="end">B–A</text>
<line x1="507.47" y1="693.5" x2="507.47" y2="696.7" stroke="#555" stroke-width="0.7"/>
<text transform="translate(510.87 704.8) rotate(-45)" font-size="7.6" fill="#222" text-anchor="end">B–A:<tspan font-style="italic">FLO1</tspan></text>
<line x1="521.71" y1="693.5" x2="521.71" y2="696.7" stroke="#555" stroke-width="0.7"/>
<text transform="translate(525.11 704.8) rotate(-45)" font-size="7.6" fill="#222" text-anchor="end">A–B</text>
<line x1="535.95" y1="693.5" x2="535.95" y2="696.7" stroke="#555" stroke-width="0.7"/>
<text transform="translate(539.35 704.8) rotate(-45)" font-size="7.6" fill="#222" text-anchor="end">A–B:<tspan font-style="italic">FLO1</tspan></text>
<line x1="550.19" y1="693.5" x2="550.19" y2="696.7" stroke="#555" stroke-width="0.7"/>
<text transform="translate(553.59 704.8) rotate(-45)" font-size="7.6" fill="#222" text-anchor="end">A–B</text>
<line x1="564.43" y1="693.5" x2="564.43" y2="696.7" stroke="#555" stroke-width="0.7"/>
<text transform="translate(567.83 704.8) rotate(-45)" font-size="7.6" fill="#222" text-anchor="end">A–B:<tspan font-style="italic">FLO1</tspan></text>
<line x1="578.67" y1="693.5" x2="578.67" y2="696.7" stroke="#555" stroke-width="0.7"/>
<text transform="translate(582.07 704.8) rotate(-45)" font-size="7.6" fill="#222" text-anchor="end">B–A</text>
<line x1="592.91" y1="693.5" x2="592.91" y2="696.7" stroke="#555" stroke-width="0.7"/>
<text transform="translate(596.31 704.8) rotate(-45)" font-size="7.6" fill="#222" text-anchor="end">B–A:<tspan font-style="italic">FLO1</tspan></text>
<line x1="607.15" y1="693.5" x2="607.15" y2="696.7" stroke="#555" stroke-width="0.7"/>
<text transform="translate(610.55 704.8) rotate(-45)" font-size="7.6" fill="#222" text-anchor="end">A–B</text>
<line x1="621.39" y1="693.5" x2="621.39" y2="696.7" stroke="#555" stroke-width="0.7"/>
<text transform="translate(624.79 704.8) rotate(-45)" font-size="7.6" fill="#222" text-anchor="end">A–B:<tspan font-style="italic">FLO1</tspan></text>
<line x1="635.63" y1="693.5" x2="635.63" y2="696.7" stroke="#555" stroke-width="0.7"/>
<text transform="translate(639.03 704.8) rotate(-45)" font-size="7.6" fill="#222" text-anchor="end">B–A</text>
<line x1="649.87" y1="693.5" x2="649.87" y2="696.7" stroke="#555" stroke-width="0.7"/>
<text transform="translate(653.27 704.8) rotate(-45)" font-size="7.6" fill="#222" text-anchor="end">B–A:<tspan font-style="italic">FLO1</tspan></text>
<line x1="380.8" y1="735.4" x2="397.9" y2="735.4" stroke="#8db3d8" stroke-width="1.1"/>
<text x="389.35" y="744.8" font-size="8" fill="#8db3d8" text-anchor="middle">Nctrl</text>
<line x1="408.1" y1="735.4" x2="426" y2="735.4" stroke="#1f9893" stroke-width="1.1"/>
<text x="417.05" y="744.8" font-size="8" fill="#1f9893" text-anchor="middle">Lys–Ade</text>
<line x1="436.8" y1="735.4" x2="454.1" y2="735.4" stroke="#8db3d8" stroke-width="1.1"/>
<text x="445.45" y="744.8" font-size="8" fill="#8db3d8" text-anchor="middle">Nctrl</text>
<line x1="463.5" y1="735.4" x2="481.4" y2="735.4" stroke="#1f9893" stroke-width="1.1"/>
<text x="472.45" y="744.8" font-size="8" fill="#1f9893" text-anchor="middle">Lys–Ade</text>
<line x1="494.2" y1="735.4" x2="511.9" y2="735.4" stroke="#8db3d8" stroke-width="1.1"/>
<text x="503.05" y="744.8" font-size="8" fill="#8db3d8" text-anchor="middle">Nctrl</text>
<line x1="525.3" y1="735.4" x2="567.3" y2="735.4" stroke="#bf9cc4" stroke-width="1.1"/>
<text x="546.3" y="744.8" font-size="8" fill="#bf9cc4" text-anchor="middle">Trp2–Trp4</text>
<line x1="581" y1="735.4" x2="623" y2="735.4" stroke="#6464b8" stroke-width="1.1"/>
<text x="602" y="744.8" font-size="8" fill="#6464b8" text-anchor="middle">Met–Trp4</text>
<line x1="390.6" y1="748.6" x2="468.4" y2="748.6" stroke="#777" stroke-width="1.5"/>
<text x="409.2" y="759.4" font-size="7.6" fill="#222">OD<tspan font-size="5" dy="1.8">i</tspan><tspan dy="-1.8"> = 10:1</tspan></text>
<line x1="501.1" y1="748.6" x2="597" y2="748.6" stroke="#777" stroke-width="1.5"/>
<text x="537.1" y="759.4" font-size="7.6" fill="#222">OD<tspan font-size="5" dy="1.8">i</tspan><tspan dy="-1.8"> = 1:1</tspan></text>
<rect x="392.1" y="546.6" width="7.6" height="7.6" fill="#7ba6cb"/>
<text x="404.4" y="553.6" font-size="8.9" fill="#222">Nctrl</text>
<rect x="392.1" y="558.7" width="7.6" height="7.6" fill="#00807a"/>
<text x="404.4" y="565.7" font-size="8.9" fill="#222">Lys–Ade</text>
<rect x="450.9" y="546.6" width="7.6" height="7.6" fill="#b08ab4"/>
<text x="463.5" y="553.6" font-size="8.9" fill="#222">Trp2–Trp4</text>
<rect x="450.9" y="558.7" width="7.6" height="7.6" fill="#5c5cae"/>
<text x="463.5" y="565.7" font-size="8.9" fill="#222">Met–Trp4</text>
<text x="351.8" y="546.9" font-size="13" fill="#000" font-weight="bold" stroke="#000" stroke-width="0.45">f</text>
<text transform="translate(355.9 617.8) rotate(-90)" font-size="7.75" fill="#222" text-anchor="middle">Resveratrol–OD (μM–OD<tspan font-size="5.6" dy="1.8">600</tspan><tspan dy="-1.8">)</tspan></text>
<text x="596.9" y="556.7" font-size="6.7" fill="#222"><tspan font-style="italic">P</tspan> &lt; 0.0001</text>
<path d="M605.3 608.3 V560.4 H620.9 V567.8" fill="none" stroke="#888" stroke-width="1"/>
<text x="606.9" y="578" font-size="6.7" fill="#222"><tspan font-style="italic">P</tspan> &lt; 0.0001</text>
<line x1="616.8" y1="580.3" x2="626.4" y2="580.3" stroke="#333" stroke-width="1"/>
</svg></body></html>
